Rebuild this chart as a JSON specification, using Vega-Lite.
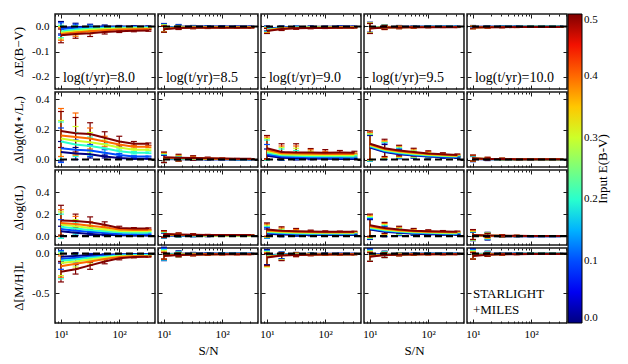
{
"$schema":"https://vega.github.io/schema/vega-lite/v6.json",
"background":"white",
"padding":{"left":11,"top":12,"right":5,"bottom":5},
"config":{
"view":{"stroke":"#1a1a1a","strokeWidth":1.5},
"font":"Liberation Serif, DejaVu Serif, serif",
"text":{"font":"Liberation Serif, DejaVu Serif, serif"},
"axis":{"domain":false,"grid":false,"tickColor":"#1a1a1a","tickWidth":1,"labelFont":"Liberation Serif, DejaVu Serif, serif","labelFontSize":11,"labelColor":"#000","titleFont":"Liberation Serif, DejaVu Serif, serif","titleFontSize":13,"titleFontWeight":"normal","titleColor":"#000","labelFlush":false,"labelOverlap":false},
"axisX":{"tickCount":20,"tickSize":{"condition":{"test":"datum.value==10||datum.value==100","value":-4},"value":-2},"labelExpr":"datum.value==10?'10¹':datum.value==100?'10²':''","labelPadding":9,"titlePadding":3},
"axisY":{"tickSize":-4,"labelExpr":"(datum.value<0?'-':'')+format(abs(datum.value),'.1f')","labelPadding":10,"titlePadding":4},
"legend":{"orient":"right","offset":-1,"padding":0,"gradientLength":309,"gradientThickness":14,"gradientStrokeColor":"#000","gradientStrokeWidth":1,"labelFont":"Liberation Serif, DejaVu Serif, serif","labelFontSize":11,"labelColor":"#000","labelOffset":2,"titleFont":"Liberation Serif, DejaVu Serif, serif","titleFontSize":13,"titleFontWeight":"normal","titleColor":"#000","titleOrient":"right","titleAnchor":"middle","titleAlign":"center","titleBaseline":"top","titlePadding":-1,"tickCount":5}
},
"datasets":{
"A1":[
{"e":0,"s":10,"v":-0.005,"l":-0.03,"h":0.02},{"e":0,"s":17.8,"v":-0.002,"l":-0.017,"h":0.013},{"e":0,"s":31.6,"v":-0.001,"l":-0.011,"h":0.009},{"e":0,"s":56.2,"v":0,"l":-0.006,"h":0.006},{"e":0,"s":100,"v":0,"l":-0.004,"h":0.004},{"e":0,"s":178,"v":0,"l":-0.003,"h":0.003},{"e":0,"s":316,"v":0,"l":-0.002,"h":0.002},
{"e":0.1,"s":10,"v":-0.01,"l":-0.035,"h":0.015},{"e":0.1,"s":17.8,"v":-0.006,"l":-0.021,"h":0.009},{"e":0.1,"s":31.6,"v":-0.004,"l":-0.014,"h":0.006},{"e":0.1,"s":56.2,"v":-0.003,"l":-0.009,"h":0.003},{"e":0.1,"s":100,"v":-0.002,"l":-0.006,"h":0.002},{"e":0.1,"s":178,"v":-0.002,"l":-0.005,"h":0.001},{"e":0.1,"s":316,"v":-0.002,"l":-0.004,"h":0},
{"e":0.2,"s":10,"v":-0.02,"l":-0.045,"h":0.005},{"e":0.2,"s":17.8,"v":-0.012,"l":-0.027,"h":0.003},{"e":0.2,"s":31.6,"v":-0.008,"l":-0.018,"h":0.002},{"e":0.2,"s":56.2,"v":-0.006,"l":-0.012,"h":0},{"e":0.2,"s":100,"v":-0.005,"l":-0.009,"h":-0.001},{"e":0.2,"s":178,"v":-0.004,"l":-0.007,"h":-0.001},{"e":0.2,"s":316,"v":-0.004,"l":-0.006,"h":-0.002},
{"e":0.3,"s":10,"v":-0.025,"l":-0.05,"h":0},{"e":0.3,"s":17.8,"v":-0.018,"l":-0.033,"h":-0.003},{"e":0.3,"s":31.6,"v":-0.013,"l":-0.023,"h":-0.003},{"e":0.3,"s":56.2,"v":-0.01,"l":-0.016,"h":-0.004},{"e":0.3,"s":100,"v":-0.008,"l":-0.012,"h":-0.004},{"e":0.3,"s":178,"v":-0.007,"l":-0.01,"h":-0.004},{"e":0.3,"s":316,"v":-0.007,"l":-0.009,"h":-0.005},
{"e":0.4,"s":10,"v":-0.03,"l":-0.055,"h":-0.005},{"e":0.4,"s":17.8,"v":-0.024,"l":-0.039,"h":-0.009},{"e":0.4,"s":31.6,"v":-0.019,"l":-0.029,"h":-0.009},{"e":0.4,"s":56.2,"v":-0.015,"l":-0.021,"h":-0.009},{"e":0.4,"s":100,"v":-0.012,"l":-0.016,"h":-0.008},{"e":0.4,"s":178,"v":-0.011,"l":-0.014,"h":-0.008},{"e":0.4,"s":316,"v":-0.01,"l":-0.012,"h":-0.008},
{"e":0.5,"s":10,"v":-0.035,"l":-0.065,"h":-0.01},{"e":0.5,"s":17.8,"v":-0.03,"l":-0.047,"h":-0.013},{"e":0.5,"s":31.6,"v":-0.027,"l":-0.04,"h":-0.016},{"e":0.5,"s":56.2,"v":-0.022,"l":-0.03,"h":-0.015},{"e":0.5,"s":100,"v":-0.019,"l":-0.024,"h":-0.014},{"e":0.5,"s":178,"v":-0.017,"l":-0.021,"h":-0.013},{"e":0.5,"s":316,"v":-0.016,"l":-0.019,"h":-0.013}],
"A2":[
{"e":0,"s":10,"v":-0.005,"l":-0.022,"h":0.012},{"e":0,"s":17.8,"v":-0.001,"l":-0.01,"h":0.008},{"e":0,"s":31.6,"v":0,"l":-0.004,"h":0.004},{"e":0,"s":56.2,"v":0,"l":-0.003,"h":0.003},{"e":0,"s":100,"v":0,"l":-0.002,"h":0.002},{"e":0,"s":178,"v":0,"l":-0.001,"h":0.001},{"e":0,"s":316,"v":0,"l":-0.001,"h":0.001},
{"e":0.1,"s":10,"v":-0.006,"l":-0.022,"h":0.01},{"e":0.1,"s":17.8,"v":-0.002,"l":-0.01,"h":0.006},{"e":0.1,"s":31.6,"v":-0.001,"l":-0.005,"h":0.003},{"e":0.1,"s":56.2,"v":-0.001,"l":-0.004,"h":0.002},{"e":0.1,"s":100,"v":-0.001,"l":-0.003,"h":0.001},{"e":0.1,"s":178,"v":-0.001,"l":-0.002,"h":0},{"e":0.1,"s":316,"v":-0.001,"l":-0.002,"h":0},
{"e":0.2,"s":10,"v":-0.007,"l":-0.022,"h":0.008},{"e":0.2,"s":17.8,"v":-0.003,"l":-0.01,"h":0.004},{"e":0.2,"s":31.6,"v":-0.002,"l":-0.006,"h":0.002},{"e":0.2,"s":56.2,"v":-0.002,"l":-0.005,"h":0.001},{"e":0.2,"s":100,"v":-0.002,"l":-0.004,"h":0},{"e":0.2,"s":178,"v":-0.002,"l":-0.003,"h":-0.001},{"e":0.2,"s":316,"v":-0.002,"l":-0.003,"h":-0.001},
{"e":0.3,"s":10,"v":-0.008,"l":-0.022,"h":0.006},{"e":0.3,"s":17.8,"v":-0.004,"l":-0.01,"h":0.002},{"e":0.3,"s":31.6,"v":-0.003,"l":-0.007,"h":0.001},{"e":0.3,"s":56.2,"v":-0.003,"l":-0.006,"h":0},{"e":0.3,"s":100,"v":-0.003,"l":-0.005,"h":-0.001},{"e":0.3,"s":178,"v":-0.003,"l":-0.004,"h":-0.002},{"e":0.3,"s":316,"v":-0.003,"l":-0.004,"h":-0.002},
{"e":0.4,"s":10,"v":-0.009,"l":-0.022,"h":0.004},{"e":0.4,"s":17.8,"v":-0.005,"l":-0.011,"h":0.001},{"e":0.4,"s":31.6,"v":-0.004,"l":-0.008,"h":0},{"e":0.4,"s":56.2,"v":-0.004,"l":-0.007,"h":-0.001},{"e":0.4,"s":100,"v":-0.004,"l":-0.006,"h":-0.002},{"e":0.4,"s":178,"v":-0.004,"l":-0.005,"h":-0.003},{"e":0.4,"s":316,"v":-0.004,"l":-0.005,"h":-0.003},
{"e":0.5,"s":10,"v":-0.011,"l":-0.023,"h":0.001},{"e":0.5,"s":17.8,"v":-0.006,"l":-0.012,"h":0},{"e":0.5,"s":31.6,"v":-0.005,"l":-0.009,"h":-0.001},{"e":0.5,"s":56.2,"v":-0.005,"l":-0.008,"h":-0.002},{"e":0.5,"s":100,"v":-0.005,"l":-0.007,"h":-0.003},{"e":0.5,"s":178,"v":-0.005,"l":-0.006,"h":-0.004},{"e":0.5,"s":316,"v":-0.005,"l":-0.006,"h":-0.004}],
"A3":[
{"e":0,"s":10,"v":-0.008,"l":-0.018,"h":0.002},{"e":0,"s":17.8,"v":-0.004,"l":-0.01,"h":0.002},{"e":0,"s":31.6,"v":-0.002,"l":-0.006,"h":0.002},{"e":0,"s":56.2,"v":-0.001,"l":-0.004,"h":0.002},{"e":0,"s":100,"v":-0.001,"l":-0.003,"h":0.001},{"e":0,"s":178,"v":0,"l":-0.002,"h":0.002},{"e":0,"s":316,"v":0,"l":-0.001,"h":0.001},
{"e":0.1,"s":10,"v":-0.01,"l":-0.02,"h":0},{"e":0.1,"s":17.8,"v":-0.005,"l":-0.011,"h":0.001},{"e":0.1,"s":31.6,"v":-0.003,"l":-0.007,"h":0.001},{"e":0.1,"s":56.2,"v":-0.002,"l":-0.005,"h":0.001},{"e":0.1,"s":100,"v":-0.002,"l":-0.004,"h":0},{"e":0.1,"s":178,"v":-0.001,"l":-0.003,"h":0.001},{"e":0.1,"s":316,"v":-0.001,"l":-0.002,"h":0},
{"e":0.2,"s":10,"v":-0.012,"l":-0.022,"h":-0.002},{"e":0.2,"s":17.8,"v":-0.006,"l":-0.012,"h":0},{"e":0.2,"s":31.6,"v":-0.004,"l":-0.008,"h":0},{"e":0.2,"s":56.2,"v":-0.003,"l":-0.006,"h":0},{"e":0.2,"s":100,"v":-0.003,"l":-0.005,"h":-0.001},{"e":0.2,"s":178,"v":-0.002,"l":-0.004,"h":0},{"e":0.2,"s":316,"v":-0.002,"l":-0.003,"h":-0.001},
{"e":0.3,"s":10,"v":-0.014,"l":-0.024,"h":-0.004},{"e":0.3,"s":17.8,"v":-0.007,"l":-0.013,"h":-0.001},{"e":0.3,"s":31.6,"v":-0.005,"l":-0.009,"h":-0.001},{"e":0.3,"s":56.2,"v":-0.004,"l":-0.007,"h":-0.001},{"e":0.3,"s":100,"v":-0.004,"l":-0.006,"h":-0.002},{"e":0.3,"s":178,"v":-0.003,"l":-0.005,"h":-0.001},{"e":0.3,"s":316,"v":-0.003,"l":-0.004,"h":-0.002},
{"e":0.4,"s":10,"v":-0.016,"l":-0.026,"h":-0.006},{"e":0.4,"s":17.8,"v":-0.008,"l":-0.014,"h":-0.002},{"e":0.4,"s":31.6,"v":-0.006,"l":-0.01,"h":-0.002},{"e":0.4,"s":56.2,"v":-0.005,"l":-0.008,"h":-0.002},{"e":0.4,"s":100,"v":-0.005,"l":-0.007,"h":-0.003},{"e":0.4,"s":178,"v":-0.004,"l":-0.006,"h":-0.002},{"e":0.4,"s":316,"v":-0.004,"l":-0.005,"h":-0.003},
{"e":0.5,"s":10,"v":-0.018,"l":-0.028,"h":-0.008},{"e":0.5,"s":17.8,"v":-0.01,"l":-0.016,"h":-0.004},{"e":0.5,"s":31.6,"v":-0.007,"l":-0.011,"h":-0.003},{"e":0.5,"s":56.2,"v":-0.006,"l":-0.009,"h":-0.003},{"e":0.5,"s":100,"v":-0.006,"l":-0.008,"h":-0.004},{"e":0.5,"s":178,"v":-0.005,"l":-0.007,"h":-0.003},{"e":0.5,"s":316,"v":-0.005,"l":-0.006,"h":-0.004}],
"A4":[
{"e":0,"s":10,"v":-0.003,"l":-0.023,"h":0.017},{"e":0,"s":17.8,"v":-0.002,"l":-0.01,"h":0.006},{"e":0,"s":31.6,"v":-0.001,"l":-0.006,"h":0.004},{"e":0,"s":56.2,"v":-0.001,"l":-0.004,"h":0.002},{"e":0,"s":100,"v":0,"l":-0.002,"h":0.002},{"e":0,"s":178,"v":0,"l":-0.001,"h":0.001},{"e":0,"s":316,"v":0,"l":-0.001,"h":0.001},
{"e":0.1,"s":10,"v":-0.004,"l":-0.024,"h":0.016},{"e":0.1,"s":17.8,"v":-0.002,"l":-0.01,"h":0.006},{"e":0.1,"s":31.6,"v":-0.002,"l":-0.007,"h":0.003},{"e":0.1,"s":56.2,"v":-0.001,"l":-0.004,"h":0.002},{"e":0.1,"s":100,"v":-0.001,"l":-0.003,"h":0.001},{"e":0.1,"s":178,"v":-0.001,"l":-0.002,"h":0},{"e":0.1,"s":316,"v":-0.001,"l":-0.002,"h":0},
{"e":0.2,"s":10,"v":-0.005,"l":-0.025,"h":0.015},{"e":0.2,"s":17.8,"v":-0.003,"l":-0.011,"h":0.005},{"e":0.2,"s":31.6,"v":-0.002,"l":-0.007,"h":0.003},{"e":0.2,"s":56.2,"v":-0.002,"l":-0.005,"h":0.001},{"e":0.2,"s":100,"v":-0.001,"l":-0.003,"h":0.001},{"e":0.2,"s":178,"v":-0.001,"l":-0.002,"h":0},{"e":0.2,"s":316,"v":-0.001,"l":-0.002,"h":0},
{"e":0.3,"s":10,"v":-0.006,"l":-0.026,"h":0.014},{"e":0.3,"s":17.8,"v":-0.003,"l":-0.011,"h":0.005},{"e":0.3,"s":31.6,"v":-0.003,"l":-0.008,"h":0.002},{"e":0.3,"s":56.2,"v":-0.002,"l":-0.005,"h":0.001},{"e":0.3,"s":100,"v":-0.002,"l":-0.004,"h":0},{"e":0.3,"s":178,"v":-0.002,"l":-0.003,"h":-0.001},{"e":0.3,"s":316,"v":-0.002,"l":-0.003,"h":-0.001},
{"e":0.4,"s":10,"v":-0.007,"l":-0.027,"h":0.013},{"e":0.4,"s":17.8,"v":-0.004,"l":-0.012,"h":0.004},{"e":0.4,"s":31.6,"v":-0.003,"l":-0.008,"h":0.002},{"e":0.4,"s":56.2,"v":-0.003,"l":-0.006,"h":0},{"e":0.4,"s":100,"v":-0.002,"l":-0.004,"h":0},{"e":0.4,"s":178,"v":-0.002,"l":-0.003,"h":-0.001},{"e":0.4,"s":316,"v":-0.002,"l":-0.003,"h":-0.001},
{"e":0.5,"s":10,"v":-0.008,"l":-0.028,"h":0.012},{"e":0.5,"s":17.8,"v":-0.004,"l":-0.012,"h":0.004},{"e":0.5,"s":31.6,"v":-0.004,"l":-0.009,"h":0.001},{"e":0.5,"s":56.2,"v":-0.003,"l":-0.006,"h":0},{"e":0.5,"s":100,"v":-0.003,"l":-0.005,"h":-0.001},{"e":0.5,"s":178,"v":-0.003,"l":-0.004,"h":-0.002},{"e":0.5,"s":316,"v":-0.003,"l":-0.004,"h":-0.002}],
"A5":[
{"e":0,"s":10,"v":-0.001,"l":-0.006,"h":0.004},{"e":0,"s":17.8,"v":-0.001,"l":-0.004,"h":0.002},{"e":0,"s":31.6,"v":0,"l":-0.002,"h":0.002},{"e":0,"s":56.2,"v":0,"l":-0.001,"h":0.001},{"e":0,"s":100,"v":0,"l":-0.001,"h":0.001},{"e":0,"s":178,"v":0,"l":-0.001,"h":0.001},{"e":0,"s":316,"v":0,"l":-0.001,"h":0.001},
{"e":0.1,"s":10,"v":-0.002,"l":-0.007,"h":0.003},{"e":0.1,"s":17.8,"v":-0.001,"l":-0.004,"h":0.002},{"e":0.1,"s":31.6,"v":-0.001,"l":-0.003,"h":0.001},{"e":0.1,"s":56.2,"v":-0.001,"l":-0.002,"h":0},{"e":0.1,"s":100,"v":-0.001,"l":-0.002,"h":0},{"e":0.1,"s":178,"v":0,"l":-0.001,"h":0.001},{"e":0.1,"s":316,"v":0,"l":-0.001,"h":0.001},
{"e":0.2,"s":10,"v":-0.003,"l":-0.008,"h":0.002},{"e":0.2,"s":17.8,"v":-0.002,"l":-0.005,"h":0.001},{"e":0.2,"s":31.6,"v":-0.001,"l":-0.003,"h":0.001},{"e":0.2,"s":56.2,"v":-0.001,"l":-0.002,"h":0},{"e":0.2,"s":100,"v":-0.001,"l":-0.002,"h":0},{"e":0.2,"s":178,"v":-0.001,"l":-0.002,"h":0},{"e":0.2,"s":316,"v":-0.001,"l":-0.002,"h":0},
{"e":0.3,"s":10,"v":-0.003,"l":-0.008,"h":0.002},{"e":0.3,"s":17.8,"v":-0.002,"l":-0.005,"h":0.001},{"e":0.3,"s":31.6,"v":-0.002,"l":-0.004,"h":0},{"e":0.3,"s":56.2,"v":-0.002,"l":-0.003,"h":-0.001},{"e":0.3,"s":100,"v":-0.001,"l":-0.002,"h":0},{"e":0.3,"s":178,"v":-0.001,"l":-0.002,"h":0},{"e":0.3,"s":316,"v":-0.001,"l":-0.002,"h":0},
{"e":0.4,"s":10,"v":-0.004,"l":-0.009,"h":0.001},{"e":0.4,"s":17.8,"v":-0.003,"l":-0.006,"h":0},{"e":0.4,"s":31.6,"v":-0.002,"l":-0.004,"h":0},{"e":0.4,"s":56.2,"v":-0.002,"l":-0.004,"h":0},{"e":0.4,"s":100,"v":-0.002,"l":-0.003,"h":-0.001},{"e":0.4,"s":178,"v":-0.002,"l":-0.003,"h":-0.001},{"e":0.4,"s":316,"v":-0.002,"l":-0.003,"h":-0.001},
{"e":0.5,"s":10,"v":-0.004,"l":-0.009,"h":0.001},{"e":0.5,"s":17.8,"v":-0.003,"l":-0.006,"h":0},{"e":0.5,"s":31.6,"v":-0.003,"l":-0.005,"h":-0.001},{"e":0.5,"s":56.2,"v":-0.002,"l":-0.004,"h":0},{"e":0.5,"s":100,"v":-0.002,"l":-0.003,"h":-0.001},{"e":0.5,"s":178,"v":-0.002,"l":-0.003,"h":-0.001},{"e":0.5,"s":316,"v":-0.002,"l":-0.003,"h":-0.001}],
"B1":[
{"e":0,"s":10,"v":0.05,"l":-0.01,"h":0.12},{"e":0,"s":17.8,"v":0.04,"l":0,"h":0.08},{"e":0,"s":31.6,"v":0.035,"l":0.01,"h":0.06},{"e":0,"s":56.2,"v":0.02,"l":0.01,"h":0.03},{"e":0,"s":100,"v":0.01,"l":0.004,"h":0.016},{"e":0,"s":178,"v":0.005,"l":0.002,"h":0.008},{"e":0,"s":316,"v":0.005,"l":0.003,"h":0.007},
{"e":0.1,"s":10,"v":0.075,"l":-0.02,"h":0.21},{"e":0.1,"s":17.8,"v":0.065,"l":0,"h":0.13},{"e":0.1,"s":31.6,"v":0.06,"l":0.02,"h":0.1},{"e":0.1,"s":56.2,"v":0.045,"l":0.025,"h":0.065},{"e":0.1,"s":100,"v":0.03,"l":0.02,"h":0.04},{"e":0.1,"s":178,"v":0.02,"l":0.015,"h":0.025},{"e":0.1,"s":316,"v":0.02,"l":0.017,"h":0.023},
{"e":0.2,"s":10,"v":0.12,"l":0,"h":0.25},{"e":0.2,"s":17.8,"v":0.1,"l":0.02,"h":0.18},{"e":0.2,"s":31.6,"v":0.09,"l":0.03,"h":0.15},{"e":0.2,"s":56.2,"v":0.075,"l":0.045,"h":0.105},{"e":0.2,"s":100,"v":0.055,"l":0.04,"h":0.07},{"e":0.2,"s":178,"v":0.045,"l":0.037,"h":0.053},{"e":0.2,"s":316,"v":0.045,"l":0.04,"h":0.05},
{"e":0.3,"s":10,"v":0.14,"l":0.02,"h":0.26},{"e":0.3,"s":17.8,"v":0.125,"l":0.03,"h":0.22},{"e":0.3,"s":31.6,"v":0.115,"l":0.05,"h":0.18},{"e":0.3,"s":56.2,"v":0.1,"l":0.07,"h":0.13},{"e":0.3,"s":100,"v":0.08,"l":0.06,"h":0.1},{"e":0.3,"s":178,"v":0.065,"l":0.055,"h":0.075},{"e":0.3,"s":316,"v":0.065,"l":0.06,"h":0.07},
{"e":0.4,"s":10,"v":0.16,"l":0.02,"h":0.34},{"e":0.4,"s":17.8,"v":0.15,"l":0.03,"h":0.31},{"e":0.4,"s":31.6,"v":0.14,"l":0.07,"h":0.21},{"e":0.4,"s":56.2,"v":0.12,"l":0.085,"h":0.155},{"e":0.4,"s":100,"v":0.1,"l":0.08,"h":0.12},{"e":0.4,"s":178,"v":0.085,"l":0.075,"h":0.095},{"e":0.4,"s":316,"v":0.085,"l":0.08,"h":0.09},
{"e":0.5,"s":10,"v":0.19,"l":0.08,"h":0.32},{"e":0.5,"s":17.8,"v":0.175,"l":0.05,"h":0.28},{"e":0.5,"s":31.6,"v":0.17,"l":0.09,"h":0.245},{"e":0.5,"s":56.2,"v":0.145,"l":0.1,"h":0.185},{"e":0.5,"s":100,"v":0.12,"l":0.09,"h":0.155},{"e":0.5,"s":178,"v":0.105,"l":0.09,"h":0.12},{"e":0.5,"s":316,"v":0.105,"l":0.095,"h":0.11}],
"B2":[
{"e":0,"s":10,"v":0.004,"l":-0.02,"h":0.028},{"e":0,"s":17.8,"v":0.002,"l":-0.01,"h":0.014},{"e":0,"s":31.6,"v":0.002,"l":-0.004,"h":0.008},{"e":0,"s":56.2,"v":0.001,"l":-0.002,"h":0.004},{"e":0,"s":100,"v":0.001,"l":-0.001,"h":0.003},{"e":0,"s":178,"v":0,"l":-0.001,"h":0.001},{"e":0,"s":316,"v":0,"l":-0.001,"h":0.001},
{"e":0.1,"s":10,"v":0.006,"l":-0.02,"h":0.032},{"e":0.1,"s":17.8,"v":0.004,"l":-0.01,"h":0.018},{"e":0.1,"s":31.6,"v":0.003,"l":-0.004,"h":0.01},{"e":0.1,"s":56.2,"v":0.002,"l":-0.002,"h":0.006},{"e":0.1,"s":100,"v":0.002,"l":-0.001,"h":0.005},{"e":0.1,"s":178,"v":0.001,"l":-0.001,"h":0.003},{"e":0.1,"s":316,"v":0.001,"l":0,"h":0.002},
{"e":0.2,"s":10,"v":0.008,"l":-0.02,"h":0.036},{"e":0.2,"s":17.8,"v":0.006,"l":-0.01,"h":0.022},{"e":0.2,"s":31.6,"v":0.005,"l":-0.004,"h":0.014},{"e":0.2,"s":56.2,"v":0.004,"l":-0.001,"h":0.009},{"e":0.2,"s":100,"v":0.003,"l":0,"h":0.006},{"e":0.2,"s":178,"v":0.002,"l":0,"h":0.004},{"e":0.2,"s":316,"v":0.002,"l":0.001,"h":0.003},
{"e":0.3,"s":10,"v":0.01,"l":-0.02,"h":0.04},{"e":0.3,"s":17.8,"v":0.008,"l":-0.01,"h":0.026},{"e":0.3,"s":31.6,"v":0.006,"l":-0.004,"h":0.016},{"e":0.3,"s":56.2,"v":0.005,"l":0,"h":0.01},{"e":0.3,"s":100,"v":0.004,"l":0.001,"h":0.007},{"e":0.3,"s":178,"v":0.003,"l":0.001,"h":0.005},{"e":0.3,"s":316,"v":0.003,"l":0.002,"h":0.004},
{"e":0.4,"s":10,"v":0.012,"l":-0.02,"h":0.045},{"e":0.4,"s":17.8,"v":0.01,"l":-0.01,"h":0.03},{"e":0.4,"s":31.6,"v":0.008,"l":-0.005,"h":0.022},{"e":0.4,"s":56.2,"v":0.006,"l":0,"h":0.012},{"e":0.4,"s":100,"v":0.005,"l":0.002,"h":0.008},{"e":0.4,"s":178,"v":0.004,"l":0.002,"h":0.006},{"e":0.4,"s":316,"v":0.004,"l":0.003,"h":0.005},
{"e":0.5,"s":10,"v":0.015,"l":-0.02,"h":0.05},{"e":0.5,"s":17.8,"v":0.012,"l":-0.01,"h":0.035},{"e":0.5,"s":31.6,"v":0.01,"l":-0.005,"h":0.025},{"e":0.5,"s":56.2,"v":0.008,"l":0,"h":0.016},{"e":0.5,"s":100,"v":0.006,"l":0.002,"h":0.01},{"e":0.5,"s":178,"v":0.005,"l":0.003,"h":0.007},{"e":0.5,"s":316,"v":0.005,"l":0.004,"h":0.006}],
"B3":[
{"e":0,"s":10,"v":0.025,"l":-0.005,"h":0.07},{"e":0,"s":17.8,"v":0.012,"l":-0.005,"h":0.035},{"e":0,"s":31.6,"v":0.008,"l":-0.003,"h":0.022},{"e":0,"s":56.2,"v":0.006,"l":-0.001,"h":0.014},{"e":0,"s":100,"v":0.005,"l":0,"h":0.01},{"e":0,"s":178,"v":0.004,"l":0.001,"h":0.008},{"e":0,"s":316,"v":0.004,"l":0.002,"h":0.006},
{"e":0.1,"s":10,"v":0.035,"l":-0.005,"h":0.1},{"e":0.1,"s":17.8,"v":0.02,"l":-0.005,"h":0.05},{"e":0.1,"s":31.6,"v":0.016,"l":0,"h":0.04},{"e":0.1,"s":56.2,"v":0.014,"l":0.004,"h":0.03},{"e":0.1,"s":100,"v":0.013,"l":0.006,"h":0.022},{"e":0.1,"s":178,"v":0.012,"l":0.007,"h":0.018},{"e":0.1,"s":316,"v":0.012,"l":0.008,"h":0.016},
{"e":0.2,"s":10,"v":0.045,"l":-0.005,"h":0.13},{"e":0.2,"s":17.8,"v":0.028,"l":0,"h":0.07},{"e":0.2,"s":31.6,"v":0.025,"l":0.005,"h":0.06},{"e":0.2,"s":56.2,"v":0.022,"l":0.01,"h":0.045},{"e":0.2,"s":100,"v":0.021,"l":0.012,"h":0.035},{"e":0.2,"s":178,"v":0.021,"l":0.014,"h":0.03},{"e":0.2,"s":316,"v":0.02,"l":0.015,"h":0.026},
{"e":0.3,"s":10,"v":0.055,"l":0,"h":0.14},{"e":0.3,"s":17.8,"v":0.035,"l":0,"h":0.08},{"e":0.3,"s":31.6,"v":0.032,"l":0.008,"h":0.075},{"e":0.3,"s":56.2,"v":0.03,"l":0.015,"h":0.055},{"e":0.3,"s":100,"v":0.029,"l":0.018,"h":0.045},{"e":0.3,"s":178,"v":0.029,"l":0.02,"h":0.04},{"e":0.3,"s":316,"v":0.028,"l":0.022,"h":0.035},
{"e":0.4,"s":10,"v":0.065,"l":0,"h":0.15},{"e":0.4,"s":17.8,"v":0.042,"l":0.005,"h":0.09},{"e":0.4,"s":31.6,"v":0.04,"l":0.012,"h":0.09},{"e":0.4,"s":56.2,"v":0.038,"l":0.02,"h":0.065},{"e":0.4,"s":100,"v":0.037,"l":0.025,"h":0.055},{"e":0.4,"s":178,"v":0.037,"l":0.028,"h":0.048},{"e":0.4,"s":316,"v":0.036,"l":0.03,"h":0.044},
{"e":0.5,"s":10,"v":0.075,"l":0.005,"h":0.16},{"e":0.5,"s":17.8,"v":0.05,"l":0.01,"h":0.105},{"e":0.5,"s":31.6,"v":0.047,"l":0.015,"h":0.105},{"e":0.5,"s":56.2,"v":0.046,"l":0.025,"h":0.073},{"e":0.5,"s":100,"v":0.045,"l":0.03,"h":0.066},{"e":0.5,"s":178,"v":0.046,"l":0.035,"h":0.06},{"e":0.5,"s":316,"v":0.045,"l":0.037,"h":0.055}],
"B4":[
{"e":0,"s":10,"v":0.08,"l":-0.01,"h":0.16},{"e":0,"s":17.8,"v":0.05,"l":0,"h":0.1},{"e":0,"s":31.6,"v":0.035,"l":0.005,"h":0.065},{"e":0,"s":56.2,"v":0.026,"l":0.008,"h":0.044},{"e":0,"s":100,"v":0.02,"l":0.01,"h":0.03},{"e":0,"s":178,"v":0.015,"l":0.008,"h":0.022},{"e":0,"s":316,"v":0.012,"l":0.008,"h":0.016},
{"e":0.1,"s":10,"v":0.085,"l":-0.01,"h":0.165},{"e":0.1,"s":17.8,"v":0.055,"l":0,"h":0.11},{"e":0.1,"s":31.6,"v":0.04,"l":0.008,"h":0.072},{"e":0.1,"s":56.2,"v":0.03,"l":0.01,"h":0.05},{"e":0.1,"s":100,"v":0.024,"l":0.012,"h":0.036},{"e":0.1,"s":178,"v":0.019,"l":0.011,"h":0.027},{"e":0.1,"s":316,"v":0.016,"l":0.011,"h":0.021},
{"e":0.2,"s":10,"v":0.09,"l":-0.01,"h":0.17},{"e":0.2,"s":17.8,"v":0.06,"l":0.005,"h":0.115},{"e":0.2,"s":31.6,"v":0.045,"l":0.012,"h":0.078},{"e":0.2,"s":56.2,"v":0.035,"l":0.013,"h":0.057},{"e":0.2,"s":100,"v":0.028,"l":0.015,"h":0.041},{"e":0.2,"s":178,"v":0.023,"l":0.015,"h":0.031},{"e":0.2,"s":316,"v":0.02,"l":0.015,"h":0.025},
{"e":0.3,"s":10,"v":0.095,"l":-0.005,"h":0.17},{"e":0.3,"s":17.8,"v":0.065,"l":0.01,"h":0.12},{"e":0.3,"s":31.6,"v":0.05,"l":0.015,"h":0.085},{"e":0.3,"s":56.2,"v":0.04,"l":0.017,"h":0.063},{"e":0.3,"s":100,"v":0.032,"l":0.018,"h":0.046},{"e":0.3,"s":178,"v":0.027,"l":0.019,"h":0.035},{"e":0.3,"s":316,"v":0.024,"l":0.018,"h":0.03},
{"e":0.4,"s":10,"v":0.1,"l":0,"h":0.18},{"e":0.4,"s":17.8,"v":0.07,"l":0.015,"h":0.125},{"e":0.4,"s":31.6,"v":0.055,"l":0.02,"h":0.09},{"e":0.4,"s":56.2,"v":0.045,"l":0.02,"h":0.07},{"e":0.4,"s":100,"v":0.036,"l":0.02,"h":0.052},{"e":0.4,"s":178,"v":0.031,"l":0.022,"h":0.04},{"e":0.4,"s":316,"v":0.027,"l":0.021,"h":0.033},
{"e":0.5,"s":10,"v":0.105,"l":0,"h":0.19},{"e":0.5,"s":17.8,"v":0.075,"l":0.02,"h":0.135},{"e":0.5,"s":31.6,"v":0.06,"l":0.025,"h":0.095},{"e":0.5,"s":56.2,"v":0.05,"l":0.025,"h":0.075},{"e":0.5,"s":100,"v":0.04,"l":0.025,"h":0.058},{"e":0.5,"s":178,"v":0.035,"l":0.025,"h":0.045},{"e":0.5,"s":316,"v":0.03,"l":0.024,"h":0.037}],
"B5":[
{"e":0,"s":10,"v":0.003,"l":-0.014,"h":0.02},{"e":0,"s":17.8,"v":0.001,"l":-0.007,"h":0.009},{"e":0,"s":31.6,"v":0.001,"l":-0.004,"h":0.006},{"e":0,"s":56.2,"v":0,"l":-0.003,"h":0.003},{"e":0,"s":100,"v":0,"l":-0.002,"h":0.002},{"e":0,"s":178,"v":0,"l":-0.001,"h":0.001},{"e":0,"s":316,"v":0,"l":-0.001,"h":0.001},
{"e":0.1,"s":10,"v":0.004,"l":-0.014,"h":0.022},{"e":0.1,"s":17.8,"v":0.002,"l":-0.006,"h":0.01},{"e":0.1,"s":31.6,"v":0.001,"l":-0.004,"h":0.006},{"e":0.1,"s":56.2,"v":0.001,"l":-0.002,"h":0.004},{"e":0.1,"s":100,"v":0,"l":-0.002,"h":0.002},{"e":0.1,"s":178,"v":0,"l":-0.001,"h":0.001},{"e":0.1,"s":316,"v":0,"l":-0.001,"h":0.001},
{"e":0.2,"s":10,"v":0.005,"l":-0.012,"h":0.024},{"e":0.2,"s":17.8,"v":0.003,"l":-0.006,"h":0.012},{"e":0.2,"s":31.6,"v":0.002,"l":-0.003,"h":0.007},{"e":0.2,"s":56.2,"v":0.001,"l":-0.002,"h":0.004},{"e":0.2,"s":100,"v":0.001,"l":-0.001,"h":0.003},{"e":0.2,"s":178,"v":0,"l":-0.001,"h":0.001},{"e":0.2,"s":316,"v":0,"l":-0.001,"h":0.001},
{"e":0.3,"s":10,"v":0.006,"l":-0.012,"h":0.026},{"e":0.3,"s":17.8,"v":0.003,"l":-0.006,"h":0.012},{"e":0.3,"s":31.6,"v":0.002,"l":-0.003,"h":0.007},{"e":0.3,"s":56.2,"v":0.002,"l":-0.002,"h":0.006},{"e":0.3,"s":100,"v":0.001,"l":-0.001,"h":0.003},{"e":0.3,"s":178,"v":0.001,"l":0,"h":0.002},{"e":0.3,"s":316,"v":0.001,"l":0,"h":0.002},
{"e":0.4,"s":10,"v":0.007,"l":-0.01,"h":0.028},{"e":0.4,"s":17.8,"v":0.004,"l":-0.005,"h":0.014},{"e":0.4,"s":31.6,"v":0.003,"l":-0.003,"h":0.009},{"e":0.4,"s":56.2,"v":0.002,"l":-0.002,"h":0.006},{"e":0.4,"s":100,"v":0.001,"l":-0.001,"h":0.003},{"e":0.4,"s":178,"v":0.001,"l":0,"h":0.002},{"e":0.4,"s":316,"v":0.001,"l":0,"h":0.002},
{"e":0.5,"s":10,"v":0.008,"l":-0.01,"h":0.03},{"e":0.5,"s":17.8,"v":0.004,"l":-0.005,"h":0.015},{"e":0.5,"s":31.6,"v":0.003,"l":-0.003,"h":0.009},{"e":0.5,"s":56.2,"v":0.002,"l":-0.002,"h":0.006},{"e":0.5,"s":100,"v":0.002,"l":0,"h":0.004},{"e":0.5,"s":178,"v":0.001,"l":0,"h":0.002},{"e":0.5,"s":316,"v":0.001,"l":0,"h":0.002}],
"C1":[
{"e":0,"s":10,"v":0.045,"l":0,"h":0.09},{"e":0,"s":17.8,"v":0.03,"l":0.005,"h":0.055},{"e":0,"s":31.6,"v":0.02,"l":0.008,"h":0.032},{"e":0,"s":56.2,"v":0.012,"l":0.005,"h":0.019},{"e":0,"s":100,"v":0.008,"l":0.004,"h":0.012},{"e":0,"s":178,"v":0.006,"l":0.004,"h":0.008},{"e":0,"s":316,"v":0.006,"l":0.005,"h":0.007},
{"e":0.1,"s":10,"v":0.065,"l":-0.02,"h":0.15},{"e":0.1,"s":17.8,"v":0.05,"l":0.01,"h":0.09},{"e":0.1,"s":31.6,"v":0.04,"l":0.02,"h":0.06},{"e":0.1,"s":56.2,"v":0.03,"l":0.02,"h":0.04},{"e":0.1,"s":100,"v":0.02,"l":0.014,"h":0.026},{"e":0.1,"s":178,"v":0.018,"l":0.014,"h":0.022},{"e":0.1,"s":316,"v":0.018,"l":0.016,"h":0.02},
{"e":0.2,"s":10,"v":0.085,"l":-0.02,"h":0.2},{"e":0.2,"s":17.8,"v":0.07,"l":0.02,"h":0.12},{"e":0.2,"s":31.6,"v":0.055,"l":0.035,"h":0.075},{"e":0.2,"s":56.2,"v":0.045,"l":0.035,"h":0.055},{"e":0.2,"s":100,"v":0.035,"l":0.028,"h":0.042},{"e":0.2,"s":178,"v":0.032,"l":0.028,"h":0.036},{"e":0.2,"s":316,"v":0.032,"l":0.03,"h":0.034},
{"e":0.3,"s":10,"v":0.105,"l":0,"h":0.22},{"e":0.3,"s":17.8,"v":0.09,"l":0.03,"h":0.15},{"e":0.3,"s":31.6,"v":0.075,"l":0.05,"h":0.1},{"e":0.3,"s":56.2,"v":0.06,"l":0.05,"h":0.07},{"e":0.3,"s":100,"v":0.048,"l":0.04,"h":0.056},{"e":0.3,"s":178,"v":0.045,"l":0.04,"h":0.05},{"e":0.3,"s":316,"v":0.045,"l":0.042,"h":0.048},
{"e":0.4,"s":10,"v":0.12,"l":0,"h":0.24},{"e":0.4,"s":17.8,"v":0.11,"l":0.04,"h":0.18},{"e":0.4,"s":31.6,"v":0.095,"l":0.06,"h":0.13},{"e":0.4,"s":56.2,"v":0.08,"l":0.065,"h":0.095},{"e":0.4,"s":100,"v":0.06,"l":0.05,"h":0.07},{"e":0.4,"s":178,"v":0.055,"l":0.05,"h":0.06},{"e":0.4,"s":316,"v":0.055,"l":0.052,"h":0.058},
{"e":0.5,"s":10,"v":0.143,"l":0.01,"h":0.28},{"e":0.5,"s":17.8,"v":0.137,"l":0.08,"h":0.2},{"e":0.5,"s":31.6,"v":0.126,"l":0.08,"h":0.175},{"e":0.5,"s":56.2,"v":0.104,"l":0.08,"h":0.13},{"e":0.5,"s":100,"v":0.074,"l":0.06,"h":0.09},{"e":0.5,"s":178,"v":0.069,"l":0.06,"h":0.078},{"e":0.5,"s":316,"v":0.069,"l":0.063,"h":0.075}],
"C2":[
{"e":0,"s":10,"v":0.005,"l":-0.018,"h":0.028},{"e":0,"s":17.8,"v":0.003,"l":-0.007,"h":0.013},{"e":0,"s":31.6,"v":0.002,"l":-0.005,"h":0.009},{"e":0,"s":56.2,"v":0.001,"l":-0.004,"h":0.006},{"e":0,"s":100,"v":0.001,"l":-0.002,"h":0.004},{"e":0,"s":178,"v":0.001,"l":-0.001,"h":0.003},{"e":0,"s":316,"v":0.001,"l":-0.001,"h":0.003},
{"e":0.1,"s":10,"v":0.008,"l":-0.016,"h":0.032},{"e":0.1,"s":17.8,"v":0.005,"l":-0.006,"h":0.016},{"e":0.1,"s":31.6,"v":0.004,"l":-0.004,"h":0.012},{"e":0.1,"s":56.2,"v":0.003,"l":-0.003,"h":0.009},{"e":0.1,"s":100,"v":0.002,"l":-0.002,"h":0.006},{"e":0.1,"s":178,"v":0.002,"l":-0.001,"h":0.005},{"e":0.1,"s":316,"v":0.002,"l":0,"h":0.004},
{"e":0.2,"s":10,"v":0.011,"l":-0.014,"h":0.036},{"e":0.2,"s":17.8,"v":0.008,"l":-0.005,"h":0.021},{"e":0.2,"s":31.6,"v":0.006,"l":-0.003,"h":0.015},{"e":0.2,"s":56.2,"v":0.004,"l":-0.002,"h":0.01},{"e":0.2,"s":100,"v":0.004,"l":0,"h":0.008},{"e":0.2,"s":178,"v":0.004,"l":0.001,"h":0.007},{"e":0.2,"s":316,"v":0.004,"l":0.002,"h":0.006},
{"e":0.3,"s":10,"v":0.014,"l":-0.012,"h":0.04},{"e":0.3,"s":17.8,"v":0.01,"l":-0.004,"h":0.024},{"e":0.3,"s":31.6,"v":0.008,"l":-0.002,"h":0.018},{"e":0.3,"s":56.2,"v":0.006,"l":0,"h":0.012},{"e":0.3,"s":100,"v":0.006,"l":0.002,"h":0.01},{"e":0.3,"s":178,"v":0.006,"l":0.003,"h":0.009},{"e":0.3,"s":316,"v":0.006,"l":0.004,"h":0.008},
{"e":0.4,"s":10,"v":0.017,"l":-0.01,"h":0.045},{"e":0.4,"s":17.8,"v":0.012,"l":-0.002,"h":0.026},{"e":0.4,"s":31.6,"v":0.01,"l":0,"h":0.02},{"e":0.4,"s":56.2,"v":0.008,"l":0.002,"h":0.014},{"e":0.4,"s":100,"v":0.008,"l":0.004,"h":0.012},{"e":0.4,"s":178,"v":0.008,"l":0.005,"h":0.011},{"e":0.4,"s":316,"v":0.008,"l":0.006,"h":0.01},
{"e":0.5,"s":10,"v":0.02,"l":-0.01,"h":0.05},{"e":0.5,"s":17.8,"v":0.015,"l":0,"h":0.03},{"e":0.5,"s":31.6,"v":0.012,"l":0.002,"h":0.022},{"e":0.5,"s":56.2,"v":0.01,"l":0.004,"h":0.016},{"e":0.5,"s":100,"v":0.01,"l":0.006,"h":0.014},{"e":0.5,"s":178,"v":0.01,"l":0.007,"h":0.013},{"e":0.5,"s":316,"v":0.01,"l":0.008,"h":0.012}],
"C3":[
{"e":0,"s":10,"v":0.022,"l":-0.02,"h":0.065},{"e":0,"s":17.8,"v":0.016,"l":-0.005,"h":0.037},{"e":0,"s":31.6,"v":0.013,"l":0,"h":0.026},{"e":0,"s":56.2,"v":0.011,"l":0.003,"h":0.019},{"e":0,"s":100,"v":0.01,"l":0.005,"h":0.015},{"e":0,"s":178,"v":0.01,"l":0.006,"h":0.014},{"e":0,"s":316,"v":0.01,"l":0.007,"h":0.013},
{"e":0.1,"s":10,"v":0.03,"l":-0.02,"h":0.08},{"e":0.1,"s":17.8,"v":0.024,"l":0,"h":0.048},{"e":0.1,"s":31.6,"v":0.02,"l":0.005,"h":0.035},{"e":0.1,"s":56.2,"v":0.018,"l":0.008,"h":0.028},{"e":0.1,"s":100,"v":0.017,"l":0.01,"h":0.024},{"e":0.1,"s":178,"v":0.017,"l":0.012,"h":0.022},{"e":0.1,"s":316,"v":0.017,"l":0.013,"h":0.021},
{"e":0.2,"s":10,"v":0.038,"l":-0.015,"h":0.09},{"e":0.2,"s":17.8,"v":0.031,"l":0.005,"h":0.057},{"e":0.2,"s":31.6,"v":0.027,"l":0.01,"h":0.045},{"e":0.2,"s":56.2,"v":0.025,"l":0.015,"h":0.035},{"e":0.2,"s":100,"v":0.024,"l":0.017,"h":0.031},{"e":0.2,"s":178,"v":0.024,"l":0.018,"h":0.03},{"e":0.2,"s":316,"v":0.024,"l":0.019,"h":0.029},
{"e":0.3,"s":10,"v":0.045,"l":-0.01,"h":0.1},{"e":0.3,"s":17.8,"v":0.038,"l":0.01,"h":0.066},{"e":0.3,"s":31.6,"v":0.034,"l":0.015,"h":0.055},{"e":0.3,"s":56.2,"v":0.031,"l":0.02,"h":0.043},{"e":0.3,"s":100,"v":0.03,"l":0.022,"h":0.038},{"e":0.3,"s":178,"v":0.03,"l":0.024,"h":0.036},{"e":0.3,"s":316,"v":0.03,"l":0.025,"h":0.035},
{"e":0.4,"s":10,"v":0.052,"l":-0.005,"h":0.11},{"e":0.4,"s":17.8,"v":0.044,"l":0.015,"h":0.075},{"e":0.4,"s":31.6,"v":0.04,"l":0.02,"h":0.062},{"e":0.4,"s":56.2,"v":0.037,"l":0.025,"h":0.05},{"e":0.4,"s":100,"v":0.035,"l":0.027,"h":0.043},{"e":0.4,"s":178,"v":0.035,"l":0.029,"h":0.041},{"e":0.4,"s":316,"v":0.035,"l":0.03,"h":0.04},
{"e":0.5,"s":10,"v":0.06,"l":0,"h":0.12},{"e":0.5,"s":17.8,"v":0.05,"l":0.02,"h":0.085},{"e":0.5,"s":31.6,"v":0.045,"l":0.025,"h":0.07},{"e":0.5,"s":56.2,"v":0.042,"l":0.03,"h":0.055},{"e":0.5,"s":100,"v":0.04,"l":0.032,"h":0.048},{"e":0.5,"s":178,"v":0.04,"l":0.034,"h":0.046},{"e":0.5,"s":316,"v":0.04,"l":0.035,"h":0.045}],
"C4":[
{"e":0,"s":10,"v":0.06,"l":-0.03,"h":0.15},{"e":0,"s":17.8,"v":0.04,"l":-0.005,"h":0.085},{"e":0,"s":31.6,"v":0.03,"l":0.005,"h":0.055},{"e":0,"s":56.2,"v":0.022,"l":0.007,"h":0.037},{"e":0,"s":100,"v":0.018,"l":0.009,"h":0.027},{"e":0,"s":178,"v":0.015,"l":0.009,"h":0.021},{"e":0,"s":316,"v":0.013,"l":0.009,"h":0.017},
{"e":0.1,"s":10,"v":0.068,"l":-0.025,"h":0.16},{"e":0.1,"s":17.8,"v":0.046,"l":0,"h":0.092},{"e":0.1,"s":31.6,"v":0.036,"l":0.01,"h":0.062},{"e":0.1,"s":56.2,"v":0.028,"l":0.012,"h":0.044},{"e":0.1,"s":100,"v":0.024,"l":0.014,"h":0.034},{"e":0.1,"s":178,"v":0.021,"l":0.015,"h":0.027},{"e":0.1,"s":316,"v":0.019,"l":0.015,"h":0.023},
{"e":0.2,"s":10,"v":0.075,"l":-0.02,"h":0.17},{"e":0.2,"s":17.8,"v":0.053,"l":0.006,"h":0.1},{"e":0.2,"s":31.6,"v":0.042,"l":0.015,"h":0.069},{"e":0.2,"s":56.2,"v":0.034,"l":0.017,"h":0.051},{"e":0.2,"s":100,"v":0.03,"l":0.019,"h":0.041},{"e":0.2,"s":178,"v":0.027,"l":0.02,"h":0.034},{"e":0.2,"s":316,"v":0.025,"l":0.02,"h":0.03},
{"e":0.3,"s":10,"v":0.082,"l":-0.015,"h":0.18},{"e":0.3,"s":17.8,"v":0.06,"l":0.012,"h":0.108},{"e":0.3,"s":31.6,"v":0.048,"l":0.02,"h":0.076},{"e":0.3,"s":56.2,"v":0.04,"l":0.022,"h":0.058},{"e":0.3,"s":100,"v":0.035,"l":0.024,"h":0.046},{"e":0.3,"s":178,"v":0.032,"l":0.025,"h":0.039},{"e":0.3,"s":316,"v":0.03,"l":0.025,"h":0.035},
{"e":0.4,"s":10,"v":0.09,"l":-0.01,"h":0.19},{"e":0.4,"s":17.8,"v":0.068,"l":0.02,"h":0.116},{"e":0.4,"s":31.6,"v":0.054,"l":0.025,"h":0.083},{"e":0.4,"s":56.2,"v":0.045,"l":0.026,"h":0.064},{"e":0.4,"s":100,"v":0.04,"l":0.028,"h":0.052},{"e":0.4,"s":178,"v":0.037,"l":0.029,"h":0.045},{"e":0.4,"s":316,"v":0.035,"l":0.03,"h":0.04},
{"e":0.5,"s":10,"v":0.1,"l":0,"h":0.2},{"e":0.5,"s":17.8,"v":0.075,"l":0.025,"h":0.125},{"e":0.5,"s":31.6,"v":0.06,"l":0.03,"h":0.09},{"e":0.5,"s":56.2,"v":0.05,"l":0.03,"h":0.07},{"e":0.5,"s":100,"v":0.045,"l":0.032,"h":0.058},{"e":0.5,"s":178,"v":0.042,"l":0.033,"h":0.051},{"e":0.5,"s":316,"v":0.04,"l":0.034,"h":0.046}],
"C5":[
{"e":0,"s":10,"v":0.001,"l":-0.04,"h":0.035},{"e":0,"s":17.8,"v":0.001,"l":-0.035,"h":0.035},{"e":0,"s":31.6,"v":0,"l":-0.01,"h":0.01},{"e":0,"s":56.2,"v":0,"l":-0.005,"h":0.005},{"e":0,"s":100,"v":0,"l":-0.003,"h":0.003},{"e":0,"s":178,"v":0,"l":-0.002,"h":0.002},{"e":0,"s":316,"v":0,"l":-0.002,"h":0.002},
{"e":0.1,"s":10,"v":0.002,"l":-0.04,"h":0.04},{"e":0.1,"s":17.8,"v":0.002,"l":-0.03,"h":0.032},{"e":0.1,"s":31.6,"v":0.001,"l":-0.009,"h":0.011},{"e":0.1,"s":56.2,"v":0.001,"l":-0.004,"h":0.006},{"e":0.1,"s":100,"v":0,"l":-0.003,"h":0.003},{"e":0.1,"s":178,"v":0,"l":-0.002,"h":0.002},{"e":0.1,"s":316,"v":0,"l":-0.002,"h":0.002},
{"e":0.2,"s":10,"v":0.004,"l":-0.035,"h":0.04},{"e":0.2,"s":17.8,"v":0.003,"l":-0.025,"h":0.03},{"e":0.2,"s":31.6,"v":0.002,"l":-0.008,"h":0.012},{"e":0.2,"s":56.2,"v":0.001,"l":-0.004,"h":0.006},{"e":0.2,"s":100,"v":0.001,"l":-0.002,"h":0.004},{"e":0.2,"s":178,"v":0.001,"l":-0.001,"h":0.003},{"e":0.2,"s":316,"v":0.001,"l":-0.001,"h":0.003},
{"e":0.3,"s":10,"v":0.006,"l":-0.035,"h":0.045},{"e":0.3,"s":17.8,"v":0.004,"l":-0.02,"h":0.028},{"e":0.3,"s":31.6,"v":0.002,"l":-0.007,"h":0.011},{"e":0.3,"s":56.2,"v":0.002,"l":-0.003,"h":0.007},{"e":0.3,"s":100,"v":0.001,"l":-0.002,"h":0.004},{"e":0.3,"s":178,"v":0.001,"l":-0.001,"h":0.003},{"e":0.3,"s":316,"v":0.001,"l":-0.001,"h":0.003},
{"e":0.4,"s":10,"v":0.008,"l":-0.03,"h":0.05},{"e":0.4,"s":17.8,"v":0.005,"l":-0.015,"h":0.025},{"e":0.4,"s":31.6,"v":0.003,"l":-0.006,"h":0.012},{"e":0.4,"s":56.2,"v":0.002,"l":-0.003,"h":0.007},{"e":0.4,"s":100,"v":0.002,"l":-0.001,"h":0.005},{"e":0.4,"s":178,"v":0.001,"l":-0.001,"h":0.003},{"e":0.4,"s":316,"v":0.001,"l":-0.001,"h":0.003},
{"e":0.5,"s":10,"v":0.01,"l":-0.03,"h":0.06},{"e":0.5,"s":17.8,"v":0.006,"l":-0.01,"h":0.025},{"e":0.5,"s":31.6,"v":0.004,"l":-0.005,"h":0.013},{"e":0.5,"s":56.2,"v":0.003,"l":-0.002,"h":0.008},{"e":0.5,"s":100,"v":0.002,"l":-0.001,"h":0.005},{"e":0.5,"s":178,"v":0.002,"l":0,"h":0.004},{"e":0.5,"s":316,"v":0.002,"l":0,"h":0.004}],
"D1":[
{"e":0,"s":10,"v":-0.04,"l":-0.12,"h":0.03},{"e":0,"s":17.8,"v":-0.03,"l":-0.07,"h":0.01},{"e":0,"s":31.6,"v":-0.02,"l":-0.04,"h":0},{"e":0,"s":56.2,"v":-0.015,"l":-0.025,"h":-0.005},{"e":0,"s":100,"v":-0.01,"l":-0.016,"h":-0.004},{"e":0,"s":178,"v":-0.008,"l":-0.012,"h":-0.004},{"e":0,"s":316,"v":-0.006,"l":-0.009,"h":-0.003},
{"e":0.1,"s":10,"v":-0.07,"l":-0.2,"h":0.04},{"e":0.1,"s":17.8,"v":-0.055,"l":-0.11,"h":0},{"e":0.1,"s":31.6,"v":-0.04,"l":-0.07,"h":-0.01},{"e":0.1,"s":56.2,"v":-0.025,"l":-0.04,"h":-0.01},{"e":0.1,"s":100,"v":-0.015,"l":-0.025,"h":-0.005},{"e":0.1,"s":178,"v":-0.012,"l":-0.018,"h":-0.006},{"e":0.1,"s":316,"v":-0.01,"l":-0.014,"h":-0.006},
{"e":0.2,"s":10,"v":-0.09,"l":-0.32,"h":0.02},{"e":0.2,"s":17.8,"v":-0.075,"l":-0.14,"h":-0.01},{"e":0.2,"s":31.6,"v":-0.055,"l":-0.09,"h":-0.02},{"e":0.2,"s":56.2,"v":-0.04,"l":-0.06,"h":-0.02},{"e":0.2,"s":100,"v":-0.025,"l":-0.035,"h":-0.015},{"e":0.2,"s":178,"v":-0.02,"l":-0.028,"h":-0.012},{"e":0.2,"s":316,"v":-0.02,"l":-0.024,"h":-0.016},
{"e":0.3,"s":10,"v":-0.12,"l":-0.28,"h":0},{"e":0.3,"s":17.8,"v":-0.1,"l":-0.17,"h":-0.04},{"e":0.3,"s":31.6,"v":-0.075,"l":-0.12,"h":-0.035},{"e":0.3,"s":56.2,"v":-0.055,"l":-0.08,"h":-0.03},{"e":0.3,"s":100,"v":-0.035,"l":-0.05,"h":-0.02},{"e":0.3,"s":178,"v":-0.03,"l":-0.04,"h":-0.02},{"e":0.3,"s":316,"v":-0.03,"l":-0.035,"h":-0.025},
{"e":0.4,"s":10,"v":-0.16,"l":-0.3,"h":-0.03},{"e":0.4,"s":17.8,"v":-0.13,"l":-0.2,"h":-0.07},{"e":0.4,"s":31.6,"v":-0.1,"l":-0.15,"h":-0.06},{"e":0.4,"s":56.2,"v":-0.07,"l":-0.1,"h":-0.045},{"e":0.4,"s":100,"v":-0.045,"l":-0.06,"h":-0.03},{"e":0.4,"s":178,"v":-0.035,"l":-0.045,"h":-0.025},{"e":0.4,"s":316,"v":-0.035,"l":-0.04,"h":-0.03},
{"e":0.5,"s":10,"v":-0.23,"l":-0.36,"h":-0.1},{"e":0.5,"s":17.8,"v":-0.2,"l":-0.26,"h":-0.14},{"e":0.5,"s":31.6,"v":-0.15,"l":-0.2,"h":-0.11},{"e":0.5,"s":56.2,"v":-0.1,"l":-0.13,"h":-0.07},{"e":0.5,"s":100,"v":-0.06,"l":-0.08,"h":-0.04},{"e":0.5,"s":178,"v":-0.045,"l":-0.055,"h":-0.035},{"e":0.5,"s":316,"v":-0.04,"l":-0.045,"h":-0.035}],
"D2":[
{"e":0,"s":10,"v":-0.005,"l":-0.09,"h":0.08},{"e":0,"s":17.8,"v":-0.003,"l":-0.04,"h":0.034},{"e":0,"s":31.6,"v":-0.002,"l":-0.018,"h":0.014},{"e":0,"s":56.2,"v":-0.001,"l":-0.01,"h":0.008},{"e":0,"s":100,"v":-0.001,"l":-0.006,"h":0.004},{"e":0,"s":178,"v":-0.001,"l":-0.004,"h":0.002},{"e":0,"s":316,"v":-0.001,"l":-0.003,"h":0.001},
{"e":0.1,"s":10,"v":-0.01,"l":-0.085,"h":0.065},{"e":0.1,"s":17.8,"v":-0.006,"l":-0.04,"h":0.028},{"e":0.1,"s":31.6,"v":-0.004,"l":-0.02,"h":0.012},{"e":0.1,"s":56.2,"v":-0.003,"l":-0.012,"h":0.006},{"e":0.1,"s":100,"v":-0.002,"l":-0.008,"h":0.004},{"e":0.1,"s":178,"v":-0.002,"l":-0.006,"h":0.002},{"e":0.1,"s":316,"v":-0.002,"l":-0.005,"h":0.001},
{"e":0.2,"s":10,"v":-0.015,"l":-0.08,"h":0.05},{"e":0.2,"s":17.8,"v":-0.01,"l":-0.04,"h":0.02},{"e":0.2,"s":31.6,"v":-0.007,"l":-0.022,"h":0.008},{"e":0.2,"s":56.2,"v":-0.005,"l":-0.015,"h":0.005},{"e":0.2,"s":100,"v":-0.004,"l":-0.01,"h":0.002},{"e":0.2,"s":178,"v":-0.004,"l":-0.008,"h":0},{"e":0.2,"s":316,"v":-0.004,"l":-0.007,"h":-0.001},
{"e":0.3,"s":10,"v":-0.02,"l":-0.075,"h":0.035},{"e":0.3,"s":17.8,"v":-0.013,"l":-0.04,"h":0.014},{"e":0.3,"s":31.6,"v":-0.01,"l":-0.025,"h":0.005},{"e":0.3,"s":56.2,"v":-0.008,"l":-0.018,"h":0.002},{"e":0.3,"s":100,"v":-0.006,"l":-0.012,"h":0},{"e":0.3,"s":178,"v":-0.006,"l":-0.01,"h":-0.002},{"e":0.3,"s":316,"v":-0.006,"l":-0.009,"h":-0.003},
{"e":0.4,"s":10,"v":-0.025,"l":-0.07,"h":0.02},{"e":0.4,"s":17.8,"v":-0.016,"l":-0.04,"h":0.008},{"e":0.4,"s":31.6,"v":-0.012,"l":-0.027,"h":0.003},{"e":0.4,"s":56.2,"v":-0.01,"l":-0.02,"h":0},{"e":0.4,"s":100,"v":-0.008,"l":-0.015,"h":-0.001},{"e":0.4,"s":178,"v":-0.008,"l":-0.013,"h":-0.003},{"e":0.4,"s":316,"v":-0.008,"l":-0.011,"h":-0.005},
{"e":0.5,"s":10,"v":-0.03,"l":-0.07,"h":0.01},{"e":0.5,"s":17.8,"v":-0.02,"l":-0.04,"h":0},{"e":0.5,"s":31.6,"v":-0.015,"l":-0.03,"h":0},{"e":0.5,"s":56.2,"v":-0.012,"l":-0.022,"h":-0.002},{"e":0.5,"s":100,"v":-0.01,"l":-0.017,"h":-0.003},{"e":0.5,"s":178,"v":-0.01,"l":-0.015,"h":-0.005},{"e":0.5,"s":316,"v":-0.01,"l":-0.013,"h":-0.007}],
"D3":[
{"e":0,"s":10,"v":-0.025,"l":-0.14,"h":0.05},{"e":0,"s":17.8,"v":-0.01,"l":-0.065,"h":0.02},{"e":0,"s":31.6,"v":-0.006,"l":-0.027,"h":0.014},{"e":0,"s":56.2,"v":-0.004,"l":-0.015,"h":0.007},{"e":0,"s":100,"v":-0.003,"l":-0.009,"h":0.003},{"e":0,"s":178,"v":-0.002,"l":-0.006,"h":0.002},{"e":0,"s":316,"v":-0.002,"l":-0.005,"h":0.001},
{"e":0.1,"s":10,"v":-0.03,"l":-0.15,"h":0.04},{"e":0.1,"s":17.8,"v":-0.013,"l":-0.07,"h":0.016},{"e":0.1,"s":31.6,"v":-0.008,"l":-0.03,"h":0.012},{"e":0.1,"s":56.2,"v":-0.006,"l":-0.017,"h":0.005},{"e":0.1,"s":100,"v":-0.005,"l":-0.011,"h":0.001},{"e":0.1,"s":178,"v":-0.004,"l":-0.008,"h":0},{"e":0.1,"s":316,"v":-0.004,"l":-0.007,"h":-0.001},
{"e":0.2,"s":10,"v":-0.035,"l":-0.16,"h":0.03},{"e":0.2,"s":17.8,"v":-0.016,"l":-0.075,"h":0.014},{"e":0.2,"s":31.6,"v":-0.011,"l":-0.032,"h":0.01},{"e":0.2,"s":56.2,"v":-0.008,"l":-0.02,"h":0.004},{"e":0.2,"s":100,"v":-0.007,"l":-0.014,"h":0},{"e":0.2,"s":178,"v":-0.006,"l":-0.011,"h":-0.001},{"e":0.2,"s":316,"v":-0.006,"l":-0.009,"h":-0.003},
{"e":0.3,"s":10,"v":-0.04,"l":-0.17,"h":0.02},{"e":0.3,"s":17.8,"v":-0.019,"l":-0.08,"h":0.012},{"e":0.3,"s":31.6,"v":-0.013,"l":-0.035,"h":0.008},{"e":0.3,"s":56.2,"v":-0.011,"l":-0.023,"h":0.001},{"e":0.3,"s":100,"v":-0.009,"l":-0.017,"h":-0.001},{"e":0.3,"s":178,"v":-0.008,"l":-0.014,"h":-0.002},{"e":0.3,"s":316,"v":-0.008,"l":-0.012,"h":-0.004},
{"e":0.4,"s":10,"v":-0.045,"l":-0.16,"h":0.01},{"e":0.4,"s":17.8,"v":-0.022,"l":-0.085,"h":0.01},{"e":0.4,"s":31.6,"v":-0.016,"l":-0.038,"h":0.006},{"e":0.4,"s":56.2,"v":-0.013,"l":-0.026,"h":0},{"e":0.4,"s":100,"v":-0.011,"l":-0.02,"h":-0.002},{"e":0.4,"s":178,"v":-0.01,"l":-0.016,"h":-0.004},{"e":0.4,"s":316,"v":-0.01,"l":-0.014,"h":-0.006},
{"e":0.5,"s":10,"v":-0.05,"l":-0.15,"h":0},{"e":0.5,"s":17.8,"v":-0.025,"l":-0.09,"h":0.01},{"e":0.5,"s":31.6,"v":-0.018,"l":-0.04,"h":0.005},{"e":0.5,"s":56.2,"v":-0.015,"l":-0.028,"h":-0.002},{"e":0.5,"s":100,"v":-0.013,"l":-0.022,"h":-0.004},{"e":0.5,"s":178,"v":-0.012,"l":-0.018,"h":-0.006},{"e":0.5,"s":316,"v":-0.012,"l":-0.016,"h":-0.008}],
"D4":[
{"e":0,"s":10,"v":-0.015,"l":-0.1,"h":0.06},{"e":0,"s":17.8,"v":-0.005,"l":-0.05,"h":0.03},{"e":0,"s":31.6,"v":-0.003,"l":-0.02,"h":0.012},{"e":0,"s":56.2,"v":-0.002,"l":-0.01,"h":0.006},{"e":0,"s":100,"v":-0.001,"l":-0.006,"h":0.004},{"e":0,"s":178,"v":-0.001,"l":-0.004,"h":0.002},{"e":0,"s":316,"v":-0.001,"l":-0.003,"h":0.001},
{"e":0.1,"s":10,"v":-0.02,"l":-0.1,"h":0.05},{"e":0.1,"s":17.8,"v":-0.008,"l":-0.05,"h":0.025},{"e":0.1,"s":31.6,"v":-0.005,"l":-0.022,"h":0.01},{"e":0.1,"s":56.2,"v":-0.004,"l":-0.012,"h":0.004},{"e":0.1,"s":100,"v":-0.002,"l":-0.008,"h":0.004},{"e":0.1,"s":178,"v":-0.002,"l":-0.006,"h":0.002},{"e":0.1,"s":316,"v":-0.002,"l":-0.005,"h":0.001},
{"e":0.2,"s":10,"v":-0.025,"l":-0.1,"h":0.04},{"e":0.2,"s":17.8,"v":-0.011,"l":-0.05,"h":0.02},{"e":0.2,"s":31.6,"v":-0.008,"l":-0.024,"h":0.007},{"e":0.2,"s":56.2,"v":-0.006,"l":-0.015,"h":0.003},{"e":0.2,"s":100,"v":-0.004,"l":-0.01,"h":0.002},{"e":0.2,"s":178,"v":-0.004,"l":-0.008,"h":0},{"e":0.2,"s":316,"v":-0.004,"l":-0.007,"h":-0.001},
{"e":0.3,"s":10,"v":-0.03,"l":-0.1,"h":0.03},{"e":0.3,"s":17.8,"v":-0.014,"l":-0.05,"h":0.015},{"e":0.3,"s":31.6,"v":-0.011,"l":-0.026,"h":0.004},{"e":0.3,"s":56.2,"v":-0.008,"l":-0.018,"h":0.002},{"e":0.3,"s":100,"v":-0.006,"l":-0.012,"h":0},{"e":0.3,"s":178,"v":-0.006,"l":-0.01,"h":-0.002},{"e":0.3,"s":316,"v":-0.006,"l":-0.009,"h":-0.003},
{"e":0.4,"s":10,"v":-0.035,"l":-0.1,"h":0.02},{"e":0.4,"s":17.8,"v":-0.017,"l":-0.05,"h":0.01},{"e":0.4,"s":31.6,"v":-0.013,"l":-0.028,"h":0.002},{"e":0.4,"s":56.2,"v":-0.01,"l":-0.02,"h":0},{"e":0.4,"s":100,"v":-0.008,"l":-0.015,"h":-0.001},{"e":0.4,"s":178,"v":-0.008,"l":-0.013,"h":-0.003},{"e":0.4,"s":316,"v":-0.008,"l":-0.011,"h":-0.005},
{"e":0.5,"s":10,"v":-0.04,"l":-0.1,"h":0.01},{"e":0.5,"s":17.8,"v":-0.02,"l":-0.05,"h":0.005},{"e":0.5,"s":31.6,"v":-0.015,"l":-0.03,"h":0},{"e":0.5,"s":56.2,"v":-0.012,"l":-0.022,"h":-0.002},{"e":0.5,"s":100,"v":-0.01,"l":-0.017,"h":-0.003},{"e":0.5,"s":178,"v":-0.01,"l":-0.015,"h":-0.005},{"e":0.5,"s":316,"v":-0.01,"l":-0.013,"h":-0.007}],
"D5":[
{"e":0,"s":10,"v":-0.005,"l":-0.07,"h":0.06},{"e":0,"s":17.8,"v":-0.003,"l":-0.035,"h":0.029},{"e":0,"s":31.6,"v":-0.002,"l":-0.012,"h":0.008},{"e":0,"s":56.2,"v":-0.001,"l":-0.007,"h":0.005},{"e":0,"s":100,"v":-0.001,"l":-0.005,"h":0.003},{"e":0,"s":178,"v":-0.001,"l":-0.004,"h":0.002},{"e":0,"s":316,"v":-0.001,"l":-0.003,"h":0.001},
{"e":0.1,"s":10,"v":-0.01,"l":-0.07,"h":0.05},{"e":0.1,"s":17.8,"v":-0.005,"l":-0.035,"h":0.025},{"e":0.1,"s":31.6,"v":-0.003,"l":-0.013,"h":0.007},{"e":0.1,"s":56.2,"v":-0.002,"l":-0.008,"h":0.004},{"e":0.1,"s":100,"v":-0.002,"l":-0.006,"h":0.002},{"e":0.1,"s":178,"v":-0.002,"l":-0.005,"h":0.001},{"e":0.1,"s":316,"v":-0.002,"l":-0.004,"h":0},
{"e":0.2,"s":10,"v":-0.015,"l":-0.07,"h":0.04},{"e":0.2,"s":17.8,"v":-0.008,"l":-0.035,"h":0.019},{"e":0.2,"s":31.6,"v":-0.005,"l":-0.015,"h":0.005},{"e":0.2,"s":56.2,"v":-0.004,"l":-0.01,"h":0.002},{"e":0.2,"s":100,"v":-0.003,"l":-0.007,"h":0.001},{"e":0.2,"s":178,"v":-0.003,"l":-0.006,"h":0},{"e":0.2,"s":316,"v":-0.003,"l":-0.005,"h":-0.001},
{"e":0.3,"s":10,"v":-0.02,"l":-0.07,"h":0.03},{"e":0.3,"s":17.8,"v":-0.01,"l":-0.035,"h":0.015},{"e":0.3,"s":31.6,"v":-0.006,"l":-0.016,"h":0.004},{"e":0.3,"s":56.2,"v":-0.005,"l":-0.011,"h":0.001},{"e":0.3,"s":100,"v":-0.004,"l":-0.008,"h":0},{"e":0.3,"s":178,"v":-0.004,"l":-0.007,"h":-0.001},{"e":0.3,"s":316,"v":-0.004,"l":-0.006,"h":-0.002},
{"e":0.4,"s":10,"v":-0.025,"l":-0.07,"h":0.02},{"e":0.4,"s":17.8,"v":-0.012,"l":-0.035,"h":0.01},{"e":0.4,"s":31.6,"v":-0.008,"l":-0.018,"h":0.002},{"e":0.4,"s":56.2,"v":-0.006,"l":-0.012,"h":0},{"e":0.4,"s":100,"v":-0.005,"l":-0.009,"h":-0.001},{"e":0.4,"s":178,"v":-0.005,"l":-0.008,"h":-0.002},{"e":0.4,"s":316,"v":-0.005,"l":-0.007,"h":-0.003},
{"e":0.5,"s":10,"v":-0.03,"l":-0.07,"h":0.01},{"e":0.5,"s":17.8,"v":-0.015,"l":-0.035,"h":0.005},{"e":0.5,"s":31.6,"v":-0.01,"l":-0.02,"h":0},{"e":0.5,"s":56.2,"v":-0.008,"l":-0.014,"h":-0.002},{"e":0.5,"s":100,"v":-0.007,"l":-0.011,"h":-0.003},{"e":0.5,"s":178,"v":-0.006,"l":-0.009,"h":-0.003},{"e":0.5,"s":316,"v":-0.006,"l":-0.008,"h":-0.004}]
},
"columns":5,
"spacing":3,
"bounds":"flush",
"resolve":{"scale":{"color":"shared"},"legend":{"color":"shared"}},
"concat":[
{"width":100,"height":75,"data":{"name":"A1"},"resolve":{"axis":{"x":"independent","y":"independent"}},
"encoding":{"color":{"field":"e","type":"quantitative","title":"Input E(B-V)","scale":{"domain":[0,0.0555,0.0625,0.17,0.1875,0.25,0.32,0.33,0.445,0.5],"range":["#000080","#0000ff","#0000ff","#00dbff","#14ffe2","#7bff7b","#eeff08","#ffed00","#ff1300","#800000"],"interpolate":"rgb"},"legend":{"type":"gradient","direction":"vertical","encode":{"title":{"update":{"angle":{"value":-90}}}}}}},
"layer":[
{"mark":{"type":"rule","strokeWidth":1.2},"encoding":{"x":{"field":"s","type":"quantitative","scale":{"type":"log","domain":[7.9,410],"nice":false},"axis":{"labels":false,"title":null}},"y":{"field":"l","type":"quantitative","scale":{"domain":[-0.25,0.05],"nice":false,"zero":false},"axis":{"values":[-0.2,-0.1,0],"title":"ΔE(B−V)","minExtent":26,"maxExtent":26}},"y2":{"field":"h"}}},
{"mark":{"type":"point","shape":"stroke","size":36,"strokeWidth":1.2,"opacity":1},"encoding":{"x":{"field":"s","type":"quantitative","scale":{"type":"log","domain":[7.9,410],"nice":false},"axis":null},"y":{"field":"l","type":"quantitative","scale":{"domain":[-0.25,0.05],"nice":false,"zero":false},"axis":null}}},
{"mark":{"type":"point","shape":"stroke","size":36,"strokeWidth":1.2,"opacity":1},"encoding":{"x":{"field":"s","type":"quantitative","scale":{"type":"log","domain":[7.9,410],"nice":false},"axis":null},"y":{"field":"h","type":"quantitative","scale":{"domain":[-0.25,0.05],"nice":false,"zero":false},"axis":null}}},
{"mark":{"type":"line","strokeWidth":2},"encoding":{"x":{"field":"s","type":"quantitative","scale":{"type":"log","domain":[7.9,410],"nice":false},"axis":{"orient":"top","labels":false,"title":null}},"y":{"field":"v","type":"quantitative","scale":{"domain":[-0.25,0.05],"nice":false,"zero":false},"axis":{"orient":"right","values":[-0.2,-0.1,0],"labels":false,"title":null}}}},
{"data":{"values":[{}]},"mark":{"type":"rule","strokeDash":[7,4],"strokeWidth":2.2},"encoding":{"y":{"datum":0,"type":"quantitative","axis":null},"color":{"value":"#000"}}},
{"data":{"values":[{}]},"mark":{"type":"text","align":"left","baseline":"alphabetic","fontSize":14},"encoding":{"x":{"datum":10.8,"type":"quantitative","axis":null},"y":{"datum":-0.222,"type":"quantitative","axis":null},"text":{"value":"log(t/yr)=8.0"},"color":{"value":"#000"}}}
]},
{"width":100,"height":75,"data":{"name":"A2"},"resolve":{"axis":{"x":"independent","y":"independent"}},
"encoding":{"color":{"field":"e","type":"quantitative","title":"Input E(B-V)","scale":{"domain":[0,0.0555,0.0625,0.17,0.1875,0.25,0.32,0.33,0.445,0.5],"range":["#000080","#0000ff","#0000ff","#00dbff","#14ffe2","#7bff7b","#eeff08","#ffed00","#ff1300","#800000"],"interpolate":"rgb"},"legend":{"type":"gradient","direction":"vertical","encode":{"title":{"update":{"angle":{"value":-90}}}}}}},
"layer":[
{"mark":{"type":"rule","strokeWidth":1.2},"encoding":{"x":{"field":"s","type":"quantitative","scale":{"type":"log","domain":[7.9,410],"nice":false},"axis":{"labels":false,"title":null}},"y":{"field":"l","type":"quantitative","scale":{"domain":[-0.25,0.05],"nice":false,"zero":false},"axis":{"values":[-0.2,-0.1,0],"labels":false,"title":null}},"y2":{"field":"h"}}},
{"mark":{"type":"point","shape":"stroke","size":36,"strokeWidth":1.2,"opacity":1},"encoding":{"x":{"field":"s","type":"quantitative","scale":{"type":"log","domain":[7.9,410],"nice":false},"axis":null},"y":{"field":"l","type":"quantitative","scale":{"domain":[-0.25,0.05],"nice":false,"zero":false},"axis":null}}},
{"mark":{"type":"point","shape":"stroke","size":36,"strokeWidth":1.2,"opacity":1},"encoding":{"x":{"field":"s","type":"quantitative","scale":{"type":"log","domain":[7.9,410],"nice":false},"axis":null},"y":{"field":"h","type":"quantitative","scale":{"domain":[-0.25,0.05],"nice":false,"zero":false},"axis":null}}},
{"mark":{"type":"line","strokeWidth":2},"encoding":{"x":{"field":"s","type":"quantitative","scale":{"type":"log","domain":[7.9,410],"nice":false},"axis":{"orient":"top","labels":false,"title":null}},"y":{"field":"v","type":"quantitative","scale":{"domain":[-0.25,0.05],"nice":false,"zero":false},"axis":{"orient":"right","values":[-0.2,-0.1,0],"labels":false,"title":null}}}},
{"data":{"values":[{}]},"mark":{"type":"rule","strokeDash":[7,4],"strokeWidth":2.2},"encoding":{"y":{"datum":0,"type":"quantitative","axis":null},"color":{"value":"#000"}}},
{"data":{"values":[{}]},"mark":{"type":"text","align":"left","baseline":"alphabetic","fontSize":14},"encoding":{"x":{"datum":10.8,"type":"quantitative","axis":null},"y":{"datum":-0.222,"type":"quantitative","axis":null},"text":{"value":"log(t/yr)=8.5"},"color":{"value":"#000"}}}
]},
{"width":100,"height":75,"data":{"name":"A3"},"resolve":{"axis":{"x":"independent","y":"independent"}},
"encoding":{"color":{"field":"e","type":"quantitative","title":"Input E(B-V)","scale":{"domain":[0,0.0555,0.0625,0.17,0.1875,0.25,0.32,0.33,0.445,0.5],"range":["#000080","#0000ff","#0000ff","#00dbff","#14ffe2","#7bff7b","#eeff08","#ffed00","#ff1300","#800000"],"interpolate":"rgb"},"legend":{"type":"gradient","direction":"vertical","encode":{"title":{"update":{"angle":{"value":-90}}}}}}},
"layer":[
{"mark":{"type":"rule","strokeWidth":1.2},"encoding":{"x":{"field":"s","type":"quantitative","scale":{"type":"log","domain":[7.9,410],"nice":false},"axis":{"labels":false,"title":null}},"y":{"field":"l","type":"quantitative","scale":{"domain":[-0.25,0.05],"nice":false,"zero":false},"axis":{"values":[-0.2,-0.1,0],"labels":false,"title":null}},"y2":{"field":"h"}}},
{"mark":{"type":"point","shape":"stroke","size":36,"strokeWidth":1.2,"opacity":1},"encoding":{"x":{"field":"s","type":"quantitative","scale":{"type":"log","domain":[7.9,410],"nice":false},"axis":null},"y":{"field":"l","type":"quantitative","scale":{"domain":[-0.25,0.05],"nice":false,"zero":false},"axis":null}}},
{"mark":{"type":"point","shape":"stroke","size":36,"strokeWidth":1.2,"opacity":1},"encoding":{"x":{"field":"s","type":"quantitative","scale":{"type":"log","domain":[7.9,410],"nice":false},"axis":null},"y":{"field":"h","type":"quantitative","scale":{"domain":[-0.25,0.05],"nice":false,"zero":false},"axis":null}}},
{"mark":{"type":"line","strokeWidth":2},"encoding":{"x":{"field":"s","type":"quantitative","scale":{"type":"log","domain":[7.9,410],"nice":false},"axis":{"orient":"top","labels":false,"title":null}},"y":{"field":"v","type":"quantitative","scale":{"domain":[-0.25,0.05],"nice":false,"zero":false},"axis":{"orient":"right","values":[-0.2,-0.1,0],"labels":false,"title":null}}}},
{"data":{"values":[{}]},"mark":{"type":"rule","strokeDash":[7,4],"strokeWidth":2.2},"encoding":{"y":{"datum":0,"type":"quantitative","axis":null},"color":{"value":"#000"}}},
{"data":{"values":[{}]},"mark":{"type":"text","align":"left","baseline":"alphabetic","fontSize":14},"encoding":{"x":{"datum":10.8,"type":"quantitative","axis":null},"y":{"datum":-0.222,"type":"quantitative","axis":null},"text":{"value":"log(t/yr)=9.0"},"color":{"value":"#000"}}}
]},
{"width":100,"height":75,"data":{"name":"A4"},"resolve":{"axis":{"x":"independent","y":"independent"}},
"encoding":{"color":{"field":"e","type":"quantitative","title":"Input E(B-V)","scale":{"domain":[0,0.0555,0.0625,0.17,0.1875,0.25,0.32,0.33,0.445,0.5],"range":["#000080","#0000ff","#0000ff","#00dbff","#14ffe2","#7bff7b","#eeff08","#ffed00","#ff1300","#800000"],"interpolate":"rgb"},"legend":{"type":"gradient","direction":"vertical","encode":{"title":{"update":{"angle":{"value":-90}}}}}}},
"layer":[
{"mark":{"type":"rule","strokeWidth":1.2},"encoding":{"x":{"field":"s","type":"quantitative","scale":{"type":"log","domain":[7.9,410],"nice":false},"axis":{"labels":false,"title":null}},"y":{"field":"l","type":"quantitative","scale":{"domain":[-0.25,0.05],"nice":false,"zero":false},"axis":{"values":[-0.2,-0.1,0],"labels":false,"title":null}},"y2":{"field":"h"}}},
{"mark":{"type":"point","shape":"stroke","size":36,"strokeWidth":1.2,"opacity":1},"encoding":{"x":{"field":"s","type":"quantitative","scale":{"type":"log","domain":[7.9,410],"nice":false},"axis":null},"y":{"field":"l","type":"quantitative","scale":{"domain":[-0.25,0.05],"nice":false,"zero":false},"axis":null}}},
{"mark":{"type":"point","shape":"stroke","size":36,"strokeWidth":1.2,"opacity":1},"encoding":{"x":{"field":"s","type":"quantitative","scale":{"type":"log","domain":[7.9,410],"nice":false},"axis":null},"y":{"field":"h","type":"quantitative","scale":{"domain":[-0.25,0.05],"nice":false,"zero":false},"axis":null}}},
{"mark":{"type":"line","strokeWidth":2},"encoding":{"x":{"field":"s","type":"quantitative","scale":{"type":"log","domain":[7.9,410],"nice":false},"axis":{"orient":"top","labels":false,"title":null}},"y":{"field":"v","type":"quantitative","scale":{"domain":[-0.25,0.05],"nice":false,"zero":false},"axis":{"orient":"right","values":[-0.2,-0.1,0],"labels":false,"title":null}}}},
{"data":{"values":[{}]},"mark":{"type":"rule","strokeDash":[7,4],"strokeWidth":2.2},"encoding":{"y":{"datum":0,"type":"quantitative","axis":null},"color":{"value":"#000"}}},
{"data":{"values":[{}]},"mark":{"type":"text","align":"left","baseline":"alphabetic","fontSize":14},"encoding":{"x":{"datum":10.8,"type":"quantitative","axis":null},"y":{"datum":-0.222,"type":"quantitative","axis":null},"text":{"value":"log(t/yr)=9.5"},"color":{"value":"#000"}}}
]},
{"width":100,"height":75,"data":{"name":"A5"},"resolve":{"axis":{"x":"independent","y":"independent"}},
"encoding":{"color":{"field":"e","type":"quantitative","title":"Input E(B-V)","scale":{"domain":[0,0.0555,0.0625,0.17,0.1875,0.25,0.32,0.33,0.445,0.5],"range":["#000080","#0000ff","#0000ff","#00dbff","#14ffe2","#7bff7b","#eeff08","#ffed00","#ff1300","#800000"],"interpolate":"rgb"},"legend":{"type":"gradient","direction":"vertical","encode":{"title":{"update":{"angle":{"value":-90}}}}}}},
"layer":[
{"mark":{"type":"rule","strokeWidth":1.2},"encoding":{"x":{"field":"s","type":"quantitative","scale":{"type":"log","domain":[7.9,410],"nice":false},"axis":{"labels":false,"title":null}},"y":{"field":"l","type":"quantitative","scale":{"domain":[-0.25,0.05],"nice":false,"zero":false},"axis":{"values":[-0.2,-0.1,0],"labels":false,"title":null}},"y2":{"field":"h"}}},
{"mark":{"type":"point","shape":"stroke","size":36,"strokeWidth":1.2,"opacity":1},"encoding":{"x":{"field":"s","type":"quantitative","scale":{"type":"log","domain":[7.9,410],"nice":false},"axis":null},"y":{"field":"l","type":"quantitative","scale":{"domain":[-0.25,0.05],"nice":false,"zero":false},"axis":null}}},
{"mark":{"type":"point","shape":"stroke","size":36,"strokeWidth":1.2,"opacity":1},"encoding":{"x":{"field":"s","type":"quantitative","scale":{"type":"log","domain":[7.9,410],"nice":false},"axis":null},"y":{"field":"h","type":"quantitative","scale":{"domain":[-0.25,0.05],"nice":false,"zero":false},"axis":null}}},
{"mark":{"type":"line","strokeWidth":2},"encoding":{"x":{"field":"s","type":"quantitative","scale":{"type":"log","domain":[7.9,410],"nice":false},"axis":{"orient":"top","labels":false,"title":null}},"y":{"field":"v","type":"quantitative","scale":{"domain":[-0.25,0.05],"nice":false,"zero":false},"axis":{"orient":"right","values":[-0.2,-0.1,0],"labels":false,"title":null}}}},
{"data":{"values":[{}]},"mark":{"type":"rule","strokeDash":[7,4],"strokeWidth":2.2},"encoding":{"y":{"datum":0,"type":"quantitative","axis":null},"color":{"value":"#000"}}},
{"data":{"values":[{}]},"mark":{"type":"text","align":"left","baseline":"alphabetic","fontSize":14},"encoding":{"x":{"datum":10.8,"type":"quantitative","axis":null},"y":{"datum":-0.222,"type":"quantitative","axis":null},"text":{"value":"log(t/yr)=10.0"},"color":{"value":"#000"}}}
]},
{"width":100,"height":75,"data":{"name":"B1"},"resolve":{"axis":{"x":"independent","y":"independent"}},
"encoding":{"color":{"field":"e","type":"quantitative","title":"Input E(B-V)","scale":{"domain":[0,0.0555,0.0625,0.17,0.1875,0.25,0.32,0.33,0.445,0.5],"range":["#000080","#0000ff","#0000ff","#00dbff","#14ffe2","#7bff7b","#eeff08","#ffed00","#ff1300","#800000"],"interpolate":"rgb"},"legend":{"type":"gradient","direction":"vertical","encode":{"title":{"update":{"angle":{"value":-90}}}}}}},
"layer":[
{"mark":{"type":"rule","strokeWidth":1.2},"encoding":{"x":{"field":"s","type":"quantitative","scale":{"type":"log","domain":[7.9,410],"nice":false},"axis":{"labels":false,"title":null}},"y":{"field":"l","type":"quantitative","scale":{"domain":[-0.05,0.45],"nice":false,"zero":false},"axis":{"values":[0,0.2,0.4],"title":"Δlog(M⋆/Lᵣ)","minExtent":26,"maxExtent":26}},"y2":{"field":"h"}}},
{"mark":{"type":"point","shape":"stroke","size":36,"strokeWidth":1.2,"opacity":1},"encoding":{"x":{"field":"s","type":"quantitative","scale":{"type":"log","domain":[7.9,410],"nice":false},"axis":null},"y":{"field":"l","type":"quantitative","scale":{"domain":[-0.05,0.45],"nice":false,"zero":false},"axis":null}}},
{"mark":{"type":"point","shape":"stroke","size":36,"strokeWidth":1.2,"opacity":1},"encoding":{"x":{"field":"s","type":"quantitative","scale":{"type":"log","domain":[7.9,410],"nice":false},"axis":null},"y":{"field":"h","type":"quantitative","scale":{"domain":[-0.05,0.45],"nice":false,"zero":false},"axis":null}}},
{"mark":{"type":"line","strokeWidth":2},"encoding":{"x":{"field":"s","type":"quantitative","scale":{"type":"log","domain":[7.9,410],"nice":false},"axis":{"orient":"top","labels":false,"title":null}},"y":{"field":"v","type":"quantitative","scale":{"domain":[-0.05,0.45],"nice":false,"zero":false},"axis":{"orient":"right","values":[0,0.2,0.4],"labels":false,"title":null}}}},
{"data":{"values":[{}]},"mark":{"type":"rule","strokeDash":[7,4],"strokeWidth":2.2},"encoding":{"y":{"datum":0,"type":"quantitative","axis":null},"color":{"value":"#000"}}}
]},
{"width":100,"height":75,"data":{"name":"B2"},"resolve":{"axis":{"x":"independent","y":"independent"}},
"encoding":{"color":{"field":"e","type":"quantitative","title":"Input E(B-V)","scale":{"domain":[0,0.0555,0.0625,0.17,0.1875,0.25,0.32,0.33,0.445,0.5],"range":["#000080","#0000ff","#0000ff","#00dbff","#14ffe2","#7bff7b","#eeff08","#ffed00","#ff1300","#800000"],"interpolate":"rgb"},"legend":{"type":"gradient","direction":"vertical","encode":{"title":{"update":{"angle":{"value":-90}}}}}}},
"layer":[
{"mark":{"type":"rule","strokeWidth":1.2},"encoding":{"x":{"field":"s","type":"quantitative","scale":{"type":"log","domain":[7.9,410],"nice":false},"axis":{"labels":false,"title":null}},"y":{"field":"l","type":"quantitative","scale":{"domain":[-0.05,0.45],"nice":false,"zero":false},"axis":{"values":[0,0.2,0.4],"labels":false,"title":null}},"y2":{"field":"h"}}},
{"mark":{"type":"point","shape":"stroke","size":36,"strokeWidth":1.2,"opacity":1},"encoding":{"x":{"field":"s","type":"quantitative","scale":{"type":"log","domain":[7.9,410],"nice":false},"axis":null},"y":{"field":"l","type":"quantitative","scale":{"domain":[-0.05,0.45],"nice":false,"zero":false},"axis":null}}},
{"mark":{"type":"point","shape":"stroke","size":36,"strokeWidth":1.2,"opacity":1},"encoding":{"x":{"field":"s","type":"quantitative","scale":{"type":"log","domain":[7.9,410],"nice":false},"axis":null},"y":{"field":"h","type":"quantitative","scale":{"domain":[-0.05,0.45],"nice":false,"zero":false},"axis":null}}},
{"mark":{"type":"line","strokeWidth":2},"encoding":{"x":{"field":"s","type":"quantitative","scale":{"type":"log","domain":[7.9,410],"nice":false},"axis":{"orient":"top","labels":false,"title":null}},"y":{"field":"v","type":"quantitative","scale":{"domain":[-0.05,0.45],"nice":false,"zero":false},"axis":{"orient":"right","values":[0,0.2,0.4],"labels":false,"title":null}}}},
{"data":{"values":[{}]},"mark":{"type":"rule","strokeDash":[7,4],"strokeWidth":2.2},"encoding":{"y":{"datum":0,"type":"quantitative","axis":null},"color":{"value":"#000"}}}
]},
{"width":100,"height":75,"data":{"name":"B3"},"resolve":{"axis":{"x":"independent","y":"independent"}},
"encoding":{"color":{"field":"e","type":"quantitative","title":"Input E(B-V)","scale":{"domain":[0,0.0555,0.0625,0.17,0.1875,0.25,0.32,0.33,0.445,0.5],"range":["#000080","#0000ff","#0000ff","#00dbff","#14ffe2","#7bff7b","#eeff08","#ffed00","#ff1300","#800000"],"interpolate":"rgb"},"legend":{"type":"gradient","direction":"vertical","encode":{"title":{"update":{"angle":{"value":-90}}}}}}},
"layer":[
{"mark":{"type":"rule","strokeWidth":1.2},"encoding":{"x":{"field":"s","type":"quantitative","scale":{"type":"log","domain":[7.9,410],"nice":false},"axis":{"labels":false,"title":null}},"y":{"field":"l","type":"quantitative","scale":{"domain":[-0.05,0.45],"nice":false,"zero":false},"axis":{"values":[0,0.2,0.4],"labels":false,"title":null}},"y2":{"field":"h"}}},
{"mark":{"type":"point","shape":"stroke","size":36,"strokeWidth":1.2,"opacity":1},"encoding":{"x":{"field":"s","type":"quantitative","scale":{"type":"log","domain":[7.9,410],"nice":false},"axis":null},"y":{"field":"l","type":"quantitative","scale":{"domain":[-0.05,0.45],"nice":false,"zero":false},"axis":null}}},
{"mark":{"type":"point","shape":"stroke","size":36,"strokeWidth":1.2,"opacity":1},"encoding":{"x":{"field":"s","type":"quantitative","scale":{"type":"log","domain":[7.9,410],"nice":false},"axis":null},"y":{"field":"h","type":"quantitative","scale":{"domain":[-0.05,0.45],"nice":false,"zero":false},"axis":null}}},
{"mark":{"type":"line","strokeWidth":2},"encoding":{"x":{"field":"s","type":"quantitative","scale":{"type":"log","domain":[7.9,410],"nice":false},"axis":{"orient":"top","labels":false,"title":null}},"y":{"field":"v","type":"quantitative","scale":{"domain":[-0.05,0.45],"nice":false,"zero":false},"axis":{"orient":"right","values":[0,0.2,0.4],"labels":false,"title":null}}}},
{"data":{"values":[{}]},"mark":{"type":"rule","strokeDash":[7,4],"strokeWidth":2.2},"encoding":{"y":{"datum":0,"type":"quantitative","axis":null},"color":{"value":"#000"}}}
]},
{"width":100,"height":75,"data":{"name":"B4"},"resolve":{"axis":{"x":"independent","y":"independent"}},
"encoding":{"color":{"field":"e","type":"quantitative","title":"Input E(B-V)","scale":{"domain":[0,0.0555,0.0625,0.17,0.1875,0.25,0.32,0.33,0.445,0.5],"range":["#000080","#0000ff","#0000ff","#00dbff","#14ffe2","#7bff7b","#eeff08","#ffed00","#ff1300","#800000"],"interpolate":"rgb"},"legend":{"type":"gradient","direction":"vertical","encode":{"title":{"update":{"angle":{"value":-90}}}}}}},
"layer":[
{"mark":{"type":"rule","strokeWidth":1.2},"encoding":{"x":{"field":"s","type":"quantitative","scale":{"type":"log","domain":[7.9,410],"nice":false},"axis":{"labels":false,"title":null}},"y":{"field":"l","type":"quantitative","scale":{"domain":[-0.05,0.45],"nice":false,"zero":false},"axis":{"values":[0,0.2,0.4],"labels":false,"title":null}},"y2":{"field":"h"}}},
{"mark":{"type":"point","shape":"stroke","size":36,"strokeWidth":1.2,"opacity":1},"encoding":{"x":{"field":"s","type":"quantitative","scale":{"type":"log","domain":[7.9,410],"nice":false},"axis":null},"y":{"field":"l","type":"quantitative","scale":{"domain":[-0.05,0.45],"nice":false,"zero":false},"axis":null}}},
{"mark":{"type":"point","shape":"stroke","size":36,"strokeWidth":1.2,"opacity":1},"encoding":{"x":{"field":"s","type":"quantitative","scale":{"type":"log","domain":[7.9,410],"nice":false},"axis":null},"y":{"field":"h","type":"quantitative","scale":{"domain":[-0.05,0.45],"nice":false,"zero":false},"axis":null}}},
{"mark":{"type":"line","strokeWidth":2},"encoding":{"x":{"field":"s","type":"quantitative","scale":{"type":"log","domain":[7.9,410],"nice":false},"axis":{"orient":"top","labels":false,"title":null}},"y":{"field":"v","type":"quantitative","scale":{"domain":[-0.05,0.45],"nice":false,"zero":false},"axis":{"orient":"right","values":[0,0.2,0.4],"labels":false,"title":null}}}},
{"data":{"values":[{}]},"mark":{"type":"rule","strokeDash":[7,4],"strokeWidth":2.2},"encoding":{"y":{"datum":0,"type":"quantitative","axis":null},"color":{"value":"#000"}}}
]},
{"width":100,"height":75,"data":{"name":"B5"},"resolve":{"axis":{"x":"independent","y":"independent"}},
"encoding":{"color":{"field":"e","type":"quantitative","title":"Input E(B-V)","scale":{"domain":[0,0.0555,0.0625,0.17,0.1875,0.25,0.32,0.33,0.445,0.5],"range":["#000080","#0000ff","#0000ff","#00dbff","#14ffe2","#7bff7b","#eeff08","#ffed00","#ff1300","#800000"],"interpolate":"rgb"},"legend":{"type":"gradient","direction":"vertical","encode":{"title":{"update":{"angle":{"value":-90}}}}}}},
"layer":[
{"mark":{"type":"rule","strokeWidth":1.2},"encoding":{"x":{"field":"s","type":"quantitative","scale":{"type":"log","domain":[7.9,410],"nice":false},"axis":{"labels":false,"title":null}},"y":{"field":"l","type":"quantitative","scale":{"domain":[-0.05,0.45],"nice":false,"zero":false},"axis":{"values":[0,0.2,0.4],"labels":false,"title":null}},"y2":{"field":"h"}}},
{"mark":{"type":"point","shape":"stroke","size":36,"strokeWidth":1.2,"opacity":1},"encoding":{"x":{"field":"s","type":"quantitative","scale":{"type":"log","domain":[7.9,410],"nice":false},"axis":null},"y":{"field":"l","type":"quantitative","scale":{"domain":[-0.05,0.45],"nice":false,"zero":false},"axis":null}}},
{"mark":{"type":"point","shape":"stroke","size":36,"strokeWidth":1.2,"opacity":1},"encoding":{"x":{"field":"s","type":"quantitative","scale":{"type":"log","domain":[7.9,410],"nice":false},"axis":null},"y":{"field":"h","type":"quantitative","scale":{"domain":[-0.05,0.45],"nice":false,"zero":false},"axis":null}}},
{"mark":{"type":"line","strokeWidth":2},"encoding":{"x":{"field":"s","type":"quantitative","scale":{"type":"log","domain":[7.9,410],"nice":false},"axis":{"orient":"top","labels":false,"title":null}},"y":{"field":"v","type":"quantitative","scale":{"domain":[-0.05,0.45],"nice":false,"zero":false},"axis":{"orient":"right","values":[0,0.2,0.4],"labels":false,"title":null}}}},
{"data":{"values":[{}]},"mark":{"type":"rule","strokeDash":[7,4],"strokeWidth":2.2},"encoding":{"y":{"datum":0,"type":"quantitative","axis":null},"color":{"value":"#000"}}}
]},
{"width":100,"height":75,"data":{"name":"C1"},"resolve":{"axis":{"x":"independent","y":"independent"}},
"encoding":{"color":{"field":"e","type":"quantitative","title":"Input E(B-V)","scale":{"domain":[0,0.0555,0.0625,0.17,0.1875,0.25,0.32,0.33,0.445,0.5],"range":["#000080","#0000ff","#0000ff","#00dbff","#14ffe2","#7bff7b","#eeff08","#ffed00","#ff1300","#800000"],"interpolate":"rgb"},"legend":{"type":"gradient","direction":"vertical","encode":{"title":{"update":{"angle":{"value":-90}}}}}}},
"layer":[
{"mark":{"type":"rule","strokeWidth":1.2},"encoding":{"x":{"field":"s","type":"quantitative","scale":{"type":"log","domain":[7.9,410],"nice":false},"axis":{"labels":false,"title":null}},"y":{"field":"l","type":"quantitative","scale":{"domain":[-0.08,0.6],"nice":false,"zero":false},"axis":{"values":[0,0.2,0.4],"title":"Δlog(tL)","minExtent":26,"maxExtent":26}},"y2":{"field":"h"}}},
{"mark":{"type":"point","shape":"stroke","size":36,"strokeWidth":1.2,"opacity":1},"encoding":{"x":{"field":"s","type":"quantitative","scale":{"type":"log","domain":[7.9,410],"nice":false},"axis":null},"y":{"field":"l","type":"quantitative","scale":{"domain":[-0.08,0.6],"nice":false,"zero":false},"axis":null}}},
{"mark":{"type":"point","shape":"stroke","size":36,"strokeWidth":1.2,"opacity":1},"encoding":{"x":{"field":"s","type":"quantitative","scale":{"type":"log","domain":[7.9,410],"nice":false},"axis":null},"y":{"field":"h","type":"quantitative","scale":{"domain":[-0.08,0.6],"nice":false,"zero":false},"axis":null}}},
{"mark":{"type":"line","strokeWidth":2},"encoding":{"x":{"field":"s","type":"quantitative","scale":{"type":"log","domain":[7.9,410],"nice":false},"axis":{"orient":"top","labels":false,"title":null}},"y":{"field":"v","type":"quantitative","scale":{"domain":[-0.08,0.6],"nice":false,"zero":false},"axis":{"orient":"right","values":[0,0.2,0.4],"labels":false,"title":null}}}},
{"data":{"values":[{}]},"mark":{"type":"rule","strokeDash":[7,4],"strokeWidth":2.2},"encoding":{"y":{"datum":0,"type":"quantitative","axis":null},"color":{"value":"#000"}}}
]},
{"width":100,"height":75,"data":{"name":"C2"},"resolve":{"axis":{"x":"independent","y":"independent"}},
"encoding":{"color":{"field":"e","type":"quantitative","title":"Input E(B-V)","scale":{"domain":[0,0.0555,0.0625,0.17,0.1875,0.25,0.32,0.33,0.445,0.5],"range":["#000080","#0000ff","#0000ff","#00dbff","#14ffe2","#7bff7b","#eeff08","#ffed00","#ff1300","#800000"],"interpolate":"rgb"},"legend":{"type":"gradient","direction":"vertical","encode":{"title":{"update":{"angle":{"value":-90}}}}}}},
"layer":[
{"mark":{"type":"rule","strokeWidth":1.2},"encoding":{"x":{"field":"s","type":"quantitative","scale":{"type":"log","domain":[7.9,410],"nice":false},"axis":{"labels":false,"title":null}},"y":{"field":"l","type":"quantitative","scale":{"domain":[-0.08,0.6],"nice":false,"zero":false},"axis":{"values":[0,0.2,0.4],"labels":false,"title":null}},"y2":{"field":"h"}}},
{"mark":{"type":"point","shape":"stroke","size":36,"strokeWidth":1.2,"opacity":1},"encoding":{"x":{"field":"s","type":"quantitative","scale":{"type":"log","domain":[7.9,410],"nice":false},"axis":null},"y":{"field":"l","type":"quantitative","scale":{"domain":[-0.08,0.6],"nice":false,"zero":false},"axis":null}}},
{"mark":{"type":"point","shape":"stroke","size":36,"strokeWidth":1.2,"opacity":1},"encoding":{"x":{"field":"s","type":"quantitative","scale":{"type":"log","domain":[7.9,410],"nice":false},"axis":null},"y":{"field":"h","type":"quantitative","scale":{"domain":[-0.08,0.6],"nice":false,"zero":false},"axis":null}}},
{"mark":{"type":"line","strokeWidth":2},"encoding":{"x":{"field":"s","type":"quantitative","scale":{"type":"log","domain":[7.9,410],"nice":false},"axis":{"orient":"top","labels":false,"title":null}},"y":{"field":"v","type":"quantitative","scale":{"domain":[-0.08,0.6],"nice":false,"zero":false},"axis":{"orient":"right","values":[0,0.2,0.4],"labels":false,"title":null}}}},
{"data":{"values":[{}]},"mark":{"type":"rule","strokeDash":[7,4],"strokeWidth":2.2},"encoding":{"y":{"datum":0,"type":"quantitative","axis":null},"color":{"value":"#000"}}}
]},
{"width":100,"height":75,"data":{"name":"C3"},"resolve":{"axis":{"x":"independent","y":"independent"}},
"encoding":{"color":{"field":"e","type":"quantitative","title":"Input E(B-V)","scale":{"domain":[0,0.0555,0.0625,0.17,0.1875,0.25,0.32,0.33,0.445,0.5],"range":["#000080","#0000ff","#0000ff","#00dbff","#14ffe2","#7bff7b","#eeff08","#ffed00","#ff1300","#800000"],"interpolate":"rgb"},"legend":{"type":"gradient","direction":"vertical","encode":{"title":{"update":{"angle":{"value":-90}}}}}}},
"layer":[
{"mark":{"type":"rule","strokeWidth":1.2},"encoding":{"x":{"field":"s","type":"quantitative","scale":{"type":"log","domain":[7.9,410],"nice":false},"axis":{"labels":false,"title":null}},"y":{"field":"l","type":"quantitative","scale":{"domain":[-0.08,0.6],"nice":false,"zero":false},"axis":{"values":[0,0.2,0.4],"labels":false,"title":null}},"y2":{"field":"h"}}},
{"mark":{"type":"point","shape":"stroke","size":36,"strokeWidth":1.2,"opacity":1},"encoding":{"x":{"field":"s","type":"quantitative","scale":{"type":"log","domain":[7.9,410],"nice":false},"axis":null},"y":{"field":"l","type":"quantitative","scale":{"domain":[-0.08,0.6],"nice":false,"zero":false},"axis":null}}},
{"mark":{"type":"point","shape":"stroke","size":36,"strokeWidth":1.2,"opacity":1},"encoding":{"x":{"field":"s","type":"quantitative","scale":{"type":"log","domain":[7.9,410],"nice":false},"axis":null},"y":{"field":"h","type":"quantitative","scale":{"domain":[-0.08,0.6],"nice":false,"zero":false},"axis":null}}},
{"mark":{"type":"line","strokeWidth":2},"encoding":{"x":{"field":"s","type":"quantitative","scale":{"type":"log","domain":[7.9,410],"nice":false},"axis":{"orient":"top","labels":false,"title":null}},"y":{"field":"v","type":"quantitative","scale":{"domain":[-0.08,0.6],"nice":false,"zero":false},"axis":{"orient":"right","values":[0,0.2,0.4],"labels":false,"title":null}}}},
{"data":{"values":[{}]},"mark":{"type":"rule","strokeDash":[7,4],"strokeWidth":2.2},"encoding":{"y":{"datum":0,"type":"quantitative","axis":null},"color":{"value":"#000"}}}
]},
{"width":100,"height":75,"data":{"name":"C4"},"resolve":{"axis":{"x":"independent","y":"independent"}},
"encoding":{"color":{"field":"e","type":"quantitative","title":"Input E(B-V)","scale":{"domain":[0,0.0555,0.0625,0.17,0.1875,0.25,0.32,0.33,0.445,0.5],"range":["#000080","#0000ff","#0000ff","#00dbff","#14ffe2","#7bff7b","#eeff08","#ffed00","#ff1300","#800000"],"interpolate":"rgb"},"legend":{"type":"gradient","direction":"vertical","encode":{"title":{"update":{"angle":{"value":-90}}}}}}},
"layer":[
{"mark":{"type":"rule","strokeWidth":1.2},"encoding":{"x":{"field":"s","type":"quantitative","scale":{"type":"log","domain":[7.9,410],"nice":false},"axis":{"labels":false,"title":null}},"y":{"field":"l","type":"quantitative","scale":{"domain":[-0.08,0.6],"nice":false,"zero":false},"axis":{"values":[0,0.2,0.4],"labels":false,"title":null}},"y2":{"field":"h"}}},
{"mark":{"type":"point","shape":"stroke","size":36,"strokeWidth":1.2,"opacity":1},"encoding":{"x":{"field":"s","type":"quantitative","scale":{"type":"log","domain":[7.9,410],"nice":false},"axis":null},"y":{"field":"l","type":"quantitative","scale":{"domain":[-0.08,0.6],"nice":false,"zero":false},"axis":null}}},
{"mark":{"type":"point","shape":"stroke","size":36,"strokeWidth":1.2,"opacity":1},"encoding":{"x":{"field":"s","type":"quantitative","scale":{"type":"log","domain":[7.9,410],"nice":false},"axis":null},"y":{"field":"h","type":"quantitative","scale":{"domain":[-0.08,0.6],"nice":false,"zero":false},"axis":null}}},
{"mark":{"type":"line","strokeWidth":2},"encoding":{"x":{"field":"s","type":"quantitative","scale":{"type":"log","domain":[7.9,410],"nice":false},"axis":{"orient":"top","labels":false,"title":null}},"y":{"field":"v","type":"quantitative","scale":{"domain":[-0.08,0.6],"nice":false,"zero":false},"axis":{"orient":"right","values":[0,0.2,0.4],"labels":false,"title":null}}}},
{"data":{"values":[{}]},"mark":{"type":"rule","strokeDash":[7,4],"strokeWidth":2.2},"encoding":{"y":{"datum":0,"type":"quantitative","axis":null},"color":{"value":"#000"}}}
]},
{"width":100,"height":75,"data":{"name":"C5"},"resolve":{"axis":{"x":"independent","y":"independent"}},
"encoding":{"color":{"field":"e","type":"quantitative","title":"Input E(B-V)","scale":{"domain":[0,0.0555,0.0625,0.17,0.1875,0.25,0.32,0.33,0.445,0.5],"range":["#000080","#0000ff","#0000ff","#00dbff","#14ffe2","#7bff7b","#eeff08","#ffed00","#ff1300","#800000"],"interpolate":"rgb"},"legend":{"type":"gradient","direction":"vertical","encode":{"title":{"update":{"angle":{"value":-90}}}}}}},
"layer":[
{"mark":{"type":"rule","strokeWidth":1.2},"encoding":{"x":{"field":"s","type":"quantitative","scale":{"type":"log","domain":[7.9,410],"nice":false},"axis":{"labels":false,"title":null}},"y":{"field":"l","type":"quantitative","scale":{"domain":[-0.08,0.6],"nice":false,"zero":false},"axis":{"values":[0,0.2,0.4],"labels":false,"title":null}},"y2":{"field":"h"}}},
{"mark":{"type":"point","shape":"stroke","size":36,"strokeWidth":1.2,"opacity":1},"encoding":{"x":{"field":"s","type":"quantitative","scale":{"type":"log","domain":[7.9,410],"nice":false},"axis":null},"y":{"field":"l","type":"quantitative","scale":{"domain":[-0.08,0.6],"nice":false,"zero":false},"axis":null}}},
{"mark":{"type":"point","shape":"stroke","size":36,"strokeWidth":1.2,"opacity":1},"encoding":{"x":{"field":"s","type":"quantitative","scale":{"type":"log","domain":[7.9,410],"nice":false},"axis":null},"y":{"field":"h","type":"quantitative","scale":{"domain":[-0.08,0.6],"nice":false,"zero":false},"axis":null}}},
{"mark":{"type":"line","strokeWidth":2},"encoding":{"x":{"field":"s","type":"quantitative","scale":{"type":"log","domain":[7.9,410],"nice":false},"axis":{"orient":"top","labels":false,"title":null}},"y":{"field":"v","type":"quantitative","scale":{"domain":[-0.08,0.6],"nice":false,"zero":false},"axis":{"orient":"right","values":[0,0.2,0.4],"labels":false,"title":null}}}},
{"data":{"values":[{}]},"mark":{"type":"rule","strokeDash":[7,4],"strokeWidth":2.2},"encoding":{"y":{"datum":0,"type":"quantitative","axis":null},"color":{"value":"#000"}}}
]},
{"width":100,"height":75,"data":{"name":"D1"},"resolve":{"axis":{"x":"independent","y":"independent"}},
"encoding":{"color":{"field":"e","type":"quantitative","title":"Input E(B-V)","scale":{"domain":[0,0.0555,0.0625,0.17,0.1875,0.25,0.32,0.33,0.445,0.5],"range":["#000080","#0000ff","#0000ff","#00dbff","#14ffe2","#7bff7b","#eeff08","#ffed00","#ff1300","#800000"],"interpolate":"rgb"},"legend":{"type":"gradient","direction":"vertical","encode":{"title":{"update":{"angle":{"value":-90}}}}}}},
"layer":[
{"mark":{"type":"rule","strokeWidth":1.2},"encoding":{"x":{"field":"s","type":"quantitative","scale":{"type":"log","domain":[7.9,410],"nice":false},"axis":{"title":null}},"y":{"field":"l","type":"quantitative","scale":{"domain":[-0.88,0.07],"nice":false,"zero":false},"axis":{"values":[-0.5,0],"title":"Δ[M/H]L","minExtent":26,"maxExtent":26}},"y2":{"field":"h"}}},
{"mark":{"type":"point","shape":"stroke","size":36,"strokeWidth":1.2,"opacity":1},"encoding":{"x":{"field":"s","type":"quantitative","scale":{"type":"log","domain":[7.9,410],"nice":false},"axis":null},"y":{"field":"l","type":"quantitative","scale":{"domain":[-0.88,0.07],"nice":false,"zero":false},"axis":null}}},
{"mark":{"type":"point","shape":"stroke","size":36,"strokeWidth":1.2,"opacity":1},"encoding":{"x":{"field":"s","type":"quantitative","scale":{"type":"log","domain":[7.9,410],"nice":false},"axis":null},"y":{"field":"h","type":"quantitative","scale":{"domain":[-0.88,0.07],"nice":false,"zero":false},"axis":null}}},
{"mark":{"type":"line","strokeWidth":2},"encoding":{"x":{"field":"s","type":"quantitative","scale":{"type":"log","domain":[7.9,410],"nice":false},"axis":{"orient":"top","labels":false,"title":null}},"y":{"field":"v","type":"quantitative","scale":{"domain":[-0.88,0.07],"nice":false,"zero":false},"axis":{"orient":"right","values":[-0.5,0],"labels":false,"title":null}}}},
{"data":{"values":[{}]},"mark":{"type":"rule","strokeDash":[7,4],"strokeWidth":2.2},"encoding":{"y":{"datum":0,"type":"quantitative","axis":null},"color":{"value":"#000"}}}
]},
{"width":100,"height":75,"data":{"name":"D2"},"resolve":{"axis":{"x":"independent","y":"independent"}},
"encoding":{"color":{"field":"e","type":"quantitative","title":"Input E(B-V)","scale":{"domain":[0,0.0555,0.0625,0.17,0.1875,0.25,0.32,0.33,0.445,0.5],"range":["#000080","#0000ff","#0000ff","#00dbff","#14ffe2","#7bff7b","#eeff08","#ffed00","#ff1300","#800000"],"interpolate":"rgb"},"legend":{"type":"gradient","direction":"vertical","encode":{"title":{"update":{"angle":{"value":-90}}}}}}},
"layer":[
{"mark":{"type":"rule","strokeWidth":1.2},"encoding":{"x":{"field":"s","type":"quantitative","scale":{"type":"log","domain":[7.9,410],"nice":false},"axis":{"title":"S/N"}},"y":{"field":"l","type":"quantitative","scale":{"domain":[-0.88,0.07],"nice":false,"zero":false},"axis":{"values":[-0.5,0],"labels":false,"title":null}},"y2":{"field":"h"}}},
{"mark":{"type":"point","shape":"stroke","size":36,"strokeWidth":1.2,"opacity":1},"encoding":{"x":{"field":"s","type":"quantitative","scale":{"type":"log","domain":[7.9,410],"nice":false},"axis":null},"y":{"field":"l","type":"quantitative","scale":{"domain":[-0.88,0.07],"nice":false,"zero":false},"axis":null}}},
{"mark":{"type":"point","shape":"stroke","size":36,"strokeWidth":1.2,"opacity":1},"encoding":{"x":{"field":"s","type":"quantitative","scale":{"type":"log","domain":[7.9,410],"nice":false},"axis":null},"y":{"field":"h","type":"quantitative","scale":{"domain":[-0.88,0.07],"nice":false,"zero":false},"axis":null}}},
{"mark":{"type":"line","strokeWidth":2},"encoding":{"x":{"field":"s","type":"quantitative","scale":{"type":"log","domain":[7.9,410],"nice":false},"axis":{"orient":"top","labels":false,"title":null}},"y":{"field":"v","type":"quantitative","scale":{"domain":[-0.88,0.07],"nice":false,"zero":false},"axis":{"orient":"right","values":[-0.5,0],"labels":false,"title":null}}}},
{"data":{"values":[{}]},"mark":{"type":"rule","strokeDash":[7,4],"strokeWidth":2.2},"encoding":{"y":{"datum":0,"type":"quantitative","axis":null},"color":{"value":"#000"}}}
]},
{"width":100,"height":75,"data":{"name":"D3"},"resolve":{"axis":{"x":"independent","y":"independent"}},
"encoding":{"color":{"field":"e","type":"quantitative","title":"Input E(B-V)","scale":{"domain":[0,0.0555,0.0625,0.17,0.1875,0.25,0.32,0.33,0.445,0.5],"range":["#000080","#0000ff","#0000ff","#00dbff","#14ffe2","#7bff7b","#eeff08","#ffed00","#ff1300","#800000"],"interpolate":"rgb"},"legend":{"type":"gradient","direction":"vertical","encode":{"title":{"update":{"angle":{"value":-90}}}}}}},
"layer":[
{"mark":{"type":"rule","strokeWidth":1.2},"encoding":{"x":{"field":"s","type":"quantitative","scale":{"type":"log","domain":[7.9,410],"nice":false},"axis":{"title":null}},"y":{"field":"l","type":"quantitative","scale":{"domain":[-0.88,0.07],"nice":false,"zero":false},"axis":{"values":[-0.5,0],"labels":false,"title":null}},"y2":{"field":"h"}}},
{"mark":{"type":"point","shape":"stroke","size":36,"strokeWidth":1.2,"opacity":1},"encoding":{"x":{"field":"s","type":"quantitative","scale":{"type":"log","domain":[7.9,410],"nice":false},"axis":null},"y":{"field":"l","type":"quantitative","scale":{"domain":[-0.88,0.07],"nice":false,"zero":false},"axis":null}}},
{"mark":{"type":"point","shape":"stroke","size":36,"strokeWidth":1.2,"opacity":1},"encoding":{"x":{"field":"s","type":"quantitative","scale":{"type":"log","domain":[7.9,410],"nice":false},"axis":null},"y":{"field":"h","type":"quantitative","scale":{"domain":[-0.88,0.07],"nice":false,"zero":false},"axis":null}}},
{"mark":{"type":"line","strokeWidth":2},"encoding":{"x":{"field":"s","type":"quantitative","scale":{"type":"log","domain":[7.9,410],"nice":false},"axis":{"orient":"top","labels":false,"title":null}},"y":{"field":"v","type":"quantitative","scale":{"domain":[-0.88,0.07],"nice":false,"zero":false},"axis":{"orient":"right","values":[-0.5,0],"labels":false,"title":null}}}},
{"data":{"values":[{}]},"mark":{"type":"rule","strokeDash":[7,4],"strokeWidth":2.2},"encoding":{"y":{"datum":0,"type":"quantitative","axis":null},"color":{"value":"#000"}}}
]},
{"width":100,"height":75,"data":{"name":"D4"},"resolve":{"axis":{"x":"independent","y":"independent"}},
"encoding":{"color":{"field":"e","type":"quantitative","title":"Input E(B-V)","scale":{"domain":[0,0.0555,0.0625,0.17,0.1875,0.25,0.32,0.33,0.445,0.5],"range":["#000080","#0000ff","#0000ff","#00dbff","#14ffe2","#7bff7b","#eeff08","#ffed00","#ff1300","#800000"],"interpolate":"rgb"},"legend":{"type":"gradient","direction":"vertical","encode":{"title":{"update":{"angle":{"value":-90}}}}}}},
"layer":[
{"mark":{"type":"rule","strokeWidth":1.2},"encoding":{"x":{"field":"s","type":"quantitative","scale":{"type":"log","domain":[7.9,410],"nice":false},"axis":{"title":"S/N"}},"y":{"field":"l","type":"quantitative","scale":{"domain":[-0.88,0.07],"nice":false,"zero":false},"axis":{"values":[-0.5,0],"labels":false,"title":null}},"y2":{"field":"h"}}},
{"mark":{"type":"point","shape":"stroke","size":36,"strokeWidth":1.2,"opacity":1},"encoding":{"x":{"field":"s","type":"quantitative","scale":{"type":"log","domain":[7.9,410],"nice":false},"axis":null},"y":{"field":"l","type":"quantitative","scale":{"domain":[-0.88,0.07],"nice":false,"zero":false},"axis":null}}},
{"mark":{"type":"point","shape":"stroke","size":36,"strokeWidth":1.2,"opacity":1},"encoding":{"x":{"field":"s","type":"quantitative","scale":{"type":"log","domain":[7.9,410],"nice":false},"axis":null},"y":{"field":"h","type":"quantitative","scale":{"domain":[-0.88,0.07],"nice":false,"zero":false},"axis":null}}},
{"mark":{"type":"line","strokeWidth":2},"encoding":{"x":{"field":"s","type":"quantitative","scale":{"type":"log","domain":[7.9,410],"nice":false},"axis":{"orient":"top","labels":false,"title":null}},"y":{"field":"v","type":"quantitative","scale":{"domain":[-0.88,0.07],"nice":false,"zero":false},"axis":{"orient":"right","values":[-0.5,0],"labels":false,"title":null}}}},
{"data":{"values":[{}]},"mark":{"type":"rule","strokeDash":[7,4],"strokeWidth":2.2},"encoding":{"y":{"datum":0,"type":"quantitative","axis":null},"color":{"value":"#000"}}}
]},
{"width":100,"height":75,"data":{"name":"D5"},"resolve":{"axis":{"x":"independent","y":"independent"}},
"encoding":{"color":{"field":"e","type":"quantitative","title":"Input E(B-V)","scale":{"domain":[0,0.0555,0.0625,0.17,0.1875,0.25,0.32,0.33,0.445,0.5],"range":["#000080","#0000ff","#0000ff","#00dbff","#14ffe2","#7bff7b","#eeff08","#ffed00","#ff1300","#800000"],"interpolate":"rgb"},"legend":{"type":"gradient","direction":"vertical","encode":{"title":{"update":{"angle":{"value":-90}}}}}}},
"layer":[
{"mark":{"type":"rule","strokeWidth":1.2},"encoding":{"x":{"field":"s","type":"quantitative","scale":{"type":"log","domain":[7.9,410],"nice":false},"axis":{"title":null}},"y":{"field":"l","type":"quantitative","scale":{"domain":[-0.88,0.07],"nice":false,"zero":false},"axis":{"values":[-0.5,0],"labels":false,"title":null}},"y2":{"field":"h"}}},
{"mark":{"type":"point","shape":"stroke","size":36,"strokeWidth":1.2,"opacity":1},"encoding":{"x":{"field":"s","type":"quantitative","scale":{"type":"log","domain":[7.9,410],"nice":false},"axis":null},"y":{"field":"l","type":"quantitative","scale":{"domain":[-0.88,0.07],"nice":false,"zero":false},"axis":null}}},
{"mark":{"type":"point","shape":"stroke","size":36,"strokeWidth":1.2,"opacity":1},"encoding":{"x":{"field":"s","type":"quantitative","scale":{"type":"log","domain":[7.9,410],"nice":false},"axis":null},"y":{"field":"h","type":"quantitative","scale":{"domain":[-0.88,0.07],"nice":false,"zero":false},"axis":null}}},
{"mark":{"type":"line","strokeWidth":2},"encoding":{"x":{"field":"s","type":"quantitative","scale":{"type":"log","domain":[7.9,410],"nice":false},"axis":{"orient":"top","labels":false,"title":null}},"y":{"field":"v","type":"quantitative","scale":{"domain":[-0.88,0.07],"nice":false,"zero":false},"axis":{"orient":"right","values":[-0.5,0],"labels":false,"title":null}}}},
{"data":{"values":[{}]},"mark":{"type":"rule","strokeDash":[7,4],"strokeWidth":2.2},"encoding":{"y":{"datum":0,"type":"quantitative","axis":null},"color":{"value":"#000"}}},
{"data":{"values":[{}]},"mark":{"type":"text","align":"left","baseline":"alphabetic","fontSize":13,"lineHeight":16},"encoding":{"x":{"datum":10,"type":"quantitative","axis":null},"y":{"datum":-0.563,"type":"quantitative","axis":null},"text":{"value":["STARLIGHT","+MILES"]},"color":{"value":"#000"}}}
]}
]
}
